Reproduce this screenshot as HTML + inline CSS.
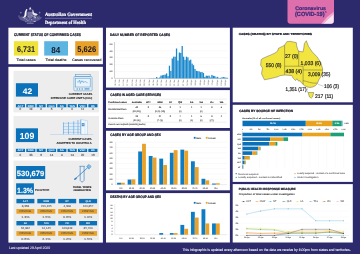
<!DOCTYPE html><html><head><meta charset="utf-8"><style>html,body{margin:0;padding:0;background:#2c2a6d;overflow:hidden;width:360px;height:254px}svg{display:block;will-change:transform;text-rendering:geometricPrecision}</style></head><body>
<svg width="360" height="254" viewBox="0 0 360 254">
<rect x="0" y="0" width="360" height="254" fill="#2c2a6d" />
<g fill="#ffffff">
<path d="M30.2 7.1 l0.35 0.75 0.8 0.1 -0.6 0.55 0.15 0.8 -0.7 -0.4 -0.7 0.4 0.15 -0.8 -0.6 -0.55 0.8 -0.1z"/>
<rect x="28.9" y="9.4" width="2.7" height="0.7" opacity="0.6"/>
<path d="M26.3 9.0 l0.9 0.3 0.2 0.9 -0.5 0.5 q-0.5 1.5 -0.3 3.2 q0.1 1.6 -0.9 2.5 l-1.6 1.0 -1.6 0.6 0.3 -0.5 1.2 -0.9 q0.6 -1.0 0.6 -2.8 q0.1 -2.2 1.1 -3.5z" opacity="0.95"/>
<path d="M32.5 9.4 q1.0 0.1 0.9 1.4 q-0.1 1.6 1.1 2.1 q2.2 0.2 3.3 1.6 q-0.9 1.2 -2.6 1.2 q-2.0 -0.2 -2.6 -1.6 q-0.4 -2.2 -0.1 -4.7z" opacity="0.9"/>
<path d="M27.4 11.8 h5.4 v4.4 q0 1.6 -2.7 2.4 q-2.7 -0.8 -2.7 -2.4z" opacity="0.35"/>
<path d="M18.2 17.6 q2.8 -1.6 6 -1.4 l2.2 1.2 q1.9 1.0 3.8 1.0 q1.9 0 3.8 -1.0 l2.2 -1.2 q3.2 -0.2 6 1.4 q-1.8 2.6 -5 3.4 q-3.4 1.2 -7 1.2 q-3.6 0 -7 -1.2 q-3.2 -0.8 -5 -3.4z" opacity="0.22"/>
<circle cx="24.09" cy="19.04" r="0.41" opacity="0.56"/>
<circle cx="33.20" cy="15.93" r="0.30" opacity="0.64"/>
<circle cx="24.59" cy="17.02" r="0.60" opacity="0.51"/>
<circle cx="38.16" cy="18.60" r="0.49" opacity="0.40"/>
<circle cx="33.42" cy="21.14" r="0.46" opacity="0.61"/>
<circle cx="34.28" cy="15.92" r="0.53" opacity="0.56"/>
<circle cx="25.58" cy="15.70" r="0.56" opacity="0.52"/>
<circle cx="35.39" cy="21.21" r="0.51" opacity="0.67"/>
<circle cx="27.78" cy="20.71" r="0.43" opacity="0.68"/>
<circle cx="39.15" cy="16.13" r="0.34" opacity="0.43"/>
<circle cx="33.23" cy="17.46" r="0.45" opacity="0.49"/>
<circle cx="26.75" cy="19.30" r="0.48" opacity="0.67"/>
<circle cx="34.53" cy="21.54" r="0.56" opacity="0.70"/>
<circle cx="34.27" cy="16.56" r="0.56" opacity="0.69"/>
<circle cx="35.27" cy="16.87" r="0.55" opacity="0.55"/>
<circle cx="25.20" cy="15.91" r="0.56" opacity="0.70"/>
<circle cx="28.15" cy="16.48" r="0.39" opacity="0.62"/>
<circle cx="39.01" cy="15.79" r="0.48" opacity="0.37"/>
<circle cx="35.38" cy="17.65" r="0.56" opacity="0.69"/>
<circle cx="30.38" cy="21.99" r="0.39" opacity="0.38"/>
<circle cx="32.59" cy="15.70" r="0.36" opacity="0.49"/>
<circle cx="32.85" cy="16.52" r="0.31" opacity="0.65"/>
<circle cx="25.88" cy="21.73" r="0.57" opacity="0.48"/>
<circle cx="29.32" cy="18.88" r="0.49" opacity="0.56"/>
<circle cx="31.64" cy="19.53" r="0.58" opacity="0.53"/>
<circle cx="28.63" cy="20.18" r="0.37" opacity="0.46"/>
<circle cx="31.39" cy="15.57" r="0.42" opacity="0.55"/>
<circle cx="33.36" cy="15.89" r="0.49" opacity="0.51"/>
<circle cx="34.46" cy="17.79" r="0.51" opacity="0.61"/>
<circle cx="19.02" cy="15.89" r="0.50" opacity="0.69"/>
<circle cx="24.40" cy="18.47" r="0.48" opacity="0.46"/>
<circle cx="27.05" cy="17.53" r="0.41" opacity="0.56"/>
<circle cx="25.56" cy="17.95" r="0.53" opacity="0.36"/>
<circle cx="31.88" cy="20.28" r="0.39" opacity="0.43"/>
<circle cx="37.39" cy="17.05" r="0.36" opacity="0.50"/>
<circle cx="20.8" cy="12.6" r="0.9" opacity="0.35"/><circle cx="39.6" cy="12.6" r="0.9" opacity="0.35"/>
<rect x="26.8" y="22.7" width="6.8" height="1.0" opacity="0.45"/>
</g>
<text transform="translate(45 15.9) scale(0.9242 1)" font-size="5.0" fill="#fff" font-weight="bold" text-anchor="start" style="font-family:&quot;Liberation Serif&quot;" stroke="#fff" stroke-width="0.2" >Australian Government</text>
<line x1="45" y1="18.3" x2="92" y2="18.3" stroke="#d8d8f0" stroke-width="0.4" />
<text transform="translate(45 23.8) scale(0.8891 1)" font-size="4.9" fill="#fff" font-weight="bold" text-anchor="start" style="font-family:&quot;Liberation Serif&quot;" stroke="#fff" stroke-width="0.196" >Department of Health</text>
<path d="M287.5 -2 H334 V20.7 Q334 23.7 331 23.7 H290.5 Q287.5 23.7 287.5 20.7Z" fill="#de6fad"/>
<path d="M321.2 23.7 Q326 17 333.7 11.8 V14 L323.3 23.7Z" fill="#f1a9d3"/>
<path d="M323.3 23.7 L333.7 14 V21 Q333.7 23.7 331 23.7Z" fill="#f4e6f2"/>
<text transform="translate(295.2 10.0) scale(1.0079 1)" font-size="5.2" fill="#3b2a78" font-weight="bold" text-anchor="start" style="font-family:&quot;Liberation Sans&quot;" stroke="#3b2a78" stroke-width="0.208" >Coronavirus</text>
<text transform="translate(295.0 15.9) scale(0.9336 1)" font-size="6.0" fill="#3b2a78" font-weight="bold" text-anchor="start" style="font-family:&quot;Liberation Sans&quot;" stroke="#3b2a78" stroke-width="0.24" >(COVID-19)</text>
<text x="325.2" y="13.0" font-size="2.4" fill="#3b2a78" font-weight="bold" text-anchor="start" style="font-family:&quot;Liberation Sans&quot;" stroke="#3b2a78" stroke-width="0.096" >1</text>
<rect x="8.4" y="27.7" width="94.5" height="36.5" fill="#fff" />
<text transform="translate(14 36.1) scale(0.8302 1)" font-size="3.9" fill="#1a1a2a" font-weight="bold" text-anchor="start" style="font-family:&quot;Liberation Sans&quot;" stroke="#1a1a2a" stroke-width="0.22" >CURRENT STATUS OF CONFIRMED CASES</text>
<rect x="13.9" y="41.2" width="24.3" height="14.4" fill="#efe23b" />
<rect x="44.2" y="41.2" width="23.8" height="14.4" fill="#5cb5e1" />
<rect x="75.2" y="41.2" width="23.4" height="14.4" fill="#e8a22a" />
<text transform="translate(26.0 52.0) scale(0.8686 1)" font-size="8.3" fill="#151520" font-weight="bold" text-anchor="middle" style="font-family:&quot;Liberation Sans&quot;" >6,731</text>
<text transform="translate(55.8 52.6) scale(0.9430 1)" font-size="8.6" fill="#151520" font-weight="bold" text-anchor="middle" style="font-family:&quot;Liberation Sans&quot;" >84</text>
<text transform="translate(86.65 52.0) scale(0.9120 1)" font-size="8.3" fill="#151520" font-weight="bold" text-anchor="middle" style="font-family:&quot;Liberation Sans&quot;" >5,626</text>
<text transform="translate(26.05 61.2) scale(1.1197 1)" font-size="3.4" fill="#333" font-weight="normal" text-anchor="middle" style="font-family:&quot;Liberation Sans&quot;" stroke="#333" stroke-width="0.136" >Total cases</text>
<text transform="translate(56.0 61.2) scale(1.1480 1)" font-size="3.4" fill="#333" font-weight="normal" text-anchor="middle" style="font-family:&quot;Liberation Sans&quot;" stroke="#333" stroke-width="0.136" >Total deaths</text>
<text transform="translate(86.7 61.2) scale(1.1466 1)" font-size="3.4" fill="#333" font-weight="normal" text-anchor="middle" style="font-family:&quot;Liberation Sans&quot;" stroke="#333" stroke-width="0.136" >Cases recovered</text>
<rect x="8.4" y="66.8" width="94.5" height="175.8" fill="#fff" />
<rect x="13.5" y="70.8" width="85.5" height="41.6" fill="#ededed" />
<rect x="13.5" y="116" width="85.5" height="41" fill="#ededed" />
<rect x="13.5" y="160.6" width="85.5" height="79.8" fill="#ededed" />
<rect x="15.9" y="83.2" width="22.1" height="13.4" fill="#0b72b9" />
<text transform="translate(27.5 94.1) scale(1.0346 1)" font-size="8.1" fill="#fff" font-weight="bold" text-anchor="middle" style="font-family:&quot;Liberation Sans&quot;" stroke="#fff" stroke-width="0.1" >42</text>
<g fill="none" stroke="#4d9bd5" stroke-width="0.55">
<rect x="75.7" y="74.4" width="14.5" height="2.1"/>
<rect x="73.9" y="76.5" width="18.2" height="14.3" rx="0.9"/>
<rect x="75.7" y="78.2" width="14.5" height="8.8" fill="#eaf3fb"/>
<path d="M77 82 h1.6 l0.8 -2 l0.9 3.5 l0.9 -2.8 l0.8 1.5 l0.8 -1.4 l0.8 1.9 l0.9 -1 h1.5 l0.6 0.9 h1"/>
</g>
<g fill="#4d9bd5"><circle cx="77.2" cy="88.9" r="0.75"/><circle cx="79.6" cy="88.9" r="0.75"/><circle cx="82.2" cy="88.9" r="0.75"/><rect x="84.5" y="88.3" width="5" height="1.2"/></g>
<text transform="translate(92.3 95.0) scale(0.9768 1)" font-size="2.8" fill="#222" font-weight="bold" text-anchor="end" style="font-family:&quot;Liberation Sans&quot;" stroke="#222" stroke-width="0.06" >CURRENT CASES</text>
<text transform="translate(92.3 98.6) scale(1.0364 1)" font-size="2.8" fill="#222" font-weight="bold" text-anchor="end" style="font-family:&quot;Liberation Sans&quot;" stroke="#222" stroke-width="0.06" >INTENSIVE CARE UNITS (ICU)</text>
<rect x="15.9" y="104.1" width="9.1" height="3.2" fill="#0b72b9" />
<text transform="translate(20.45 106.55) scale(1.1255 1)" font-size="2.6" fill="#fff" font-weight="bold" text-anchor="middle" style="font-family:&quot;Liberation Sans&quot;" stroke="#fff" stroke-width="0.02" >ACT</text>
<text x="20.45" y="110.3" font-size="3.0" fill="#555" font-weight="normal" text-anchor="middle" style="font-family:&quot;Liberation Sans&quot;" stroke="#555" stroke-width="0.1" >0</text>
<rect x="26.25" y="104.1" width="9.1" height="3.2" fill="#0b72b9" />
<text transform="translate(30.8 106.55) scale(0.9914 1)" font-size="2.6" fill="#fff" font-weight="bold" text-anchor="middle" style="font-family:&quot;Liberation Sans&quot;" stroke="#fff" stroke-width="0.02" >NSW</text>
<text x="30.8" y="110.3" font-size="3.0" fill="#555" font-weight="normal" text-anchor="middle" style="font-family:&quot;Liberation Sans&quot;" stroke="#555" stroke-width="0.1" >19</text>
<rect x="36.6" y="104.1" width="9.1" height="3.2" fill="#0b72b9" />
<text transform="translate(41.15 106.55) scale(1.1568 1)" font-size="2.6" fill="#fff" font-weight="bold" text-anchor="middle" style="font-family:&quot;Liberation Sans&quot;" stroke="#fff" stroke-width="0.02" >NT</text>
<text x="41.15" y="110.3" font-size="3.0" fill="#555" font-weight="normal" text-anchor="middle" style="font-family:&quot;Liberation Sans&quot;" stroke="#555" stroke-width="0.1" >0</text>
<rect x="46.949999999999996" y="104.1" width="9.1" height="3.2" fill="#0b72b9" />
<text transform="translate(51.49999999999999 106.55) scale(1.0958 1)" font-size="2.6" fill="#fff" font-weight="bold" text-anchor="middle" style="font-family:&quot;Liberation Sans&quot;" stroke="#fff" stroke-width="0.02" >QLD</text>
<text x="51.49999999999999" y="110.3" font-size="3.0" fill="#555" font-weight="normal" text-anchor="middle" style="font-family:&quot;Liberation Sans&quot;" stroke="#555" stroke-width="0.1" >6</text>
<rect x="57.3" y="104.1" width="9.1" height="3.2" fill="#0b72b9" />
<text transform="translate(61.849999999999994 106.55) scale(1.1100 1)" font-size="2.6" fill="#fff" font-weight="bold" text-anchor="middle" style="font-family:&quot;Liberation Sans&quot;" stroke="#fff" stroke-width="0.02" >SA</text>
<text x="61.849999999999994" y="110.3" font-size="3.0" fill="#555" font-weight="normal" text-anchor="middle" style="font-family:&quot;Liberation Sans&quot;" stroke="#555" stroke-width="0.1" >2</text>
<rect x="67.65" y="104.1" width="9.1" height="3.2" fill="#0b72b9" />
<text transform="translate(72.2 106.55) scale(1.2011 1)" font-size="2.6" fill="#fff" font-weight="bold" text-anchor="middle" style="font-family:&quot;Liberation Sans&quot;" stroke="#fff" stroke-width="0.02" >TAS</text>
<text x="72.2" y="110.3" font-size="3.0" fill="#555" font-weight="normal" text-anchor="middle" style="font-family:&quot;Liberation Sans&quot;" stroke="#555" stroke-width="0.1" >0</text>
<rect x="78.0" y="104.1" width="9.1" height="3.2" fill="#0b72b9" />
<text transform="translate(82.55 106.55) scale(1.3875 1)" font-size="2.6" fill="#fff" font-weight="bold" text-anchor="middle" style="font-family:&quot;Liberation Sans&quot;" stroke="#fff" stroke-width="0.02" >VIC</text>
<text x="82.55" y="110.3" font-size="3.0" fill="#555" font-weight="normal" text-anchor="middle" style="font-family:&quot;Liberation Sans&quot;" stroke="#555" stroke-width="0.1" >11</text>
<rect x="88.35000000000001" y="104.1" width="9.1" height="3.2" fill="#0b72b9" />
<text transform="translate(92.9 106.55) scale(0.9573 1)" font-size="2.6" fill="#fff" font-weight="bold" text-anchor="middle" style="font-family:&quot;Liberation Sans&quot;" stroke="#fff" stroke-width="0.02" >WA</text>
<text x="92.9" y="110.3" font-size="3.0" fill="#555" font-weight="normal" text-anchor="middle" style="font-family:&quot;Liberation Sans&quot;" stroke="#555" stroke-width="0.1" >4</text>
<rect x="15.9" y="128.3" width="22.1" height="13.8" fill="#0b72b9" />
<text transform="translate(27.0 138.5) scale(0.9898 1)" font-size="8.8" fill="#fff" font-weight="bold" text-anchor="middle" style="font-family:&quot;Liberation Sans&quot;" stroke="#fff" stroke-width="0.05" >109</text>
<path d="M62.9 134.4 V122.4 L74.2 121.2 V120.3 L80.8 119.5 V134.4Z" fill="#e3edf7"/>
<path d="M80.8 119.5 L84.5 120.2 L87.5 120.9 V134.4 H80.8Z" fill="#f3f8fc" stroke="#86b8e2" stroke-width="0.35"/>
<g stroke="#8fbfe6" stroke-width="0.55">
<line x1="62.9" y1="123.3" x2="80.8" y2="123.2"/>
<line x1="62.9" y1="126.6" x2="80.8" y2="126.5"/>
<line x1="62.9" y1="129.5" x2="80.8" y2="129.4"/>
<line x1="62.9" y1="132.4" x2="80.8" y2="132.3"/>
</g>
<g fill="#76acdb">
<rect x="63.0" y="122.4" width="0.75" height="12.00"/>
<rect x="68.0" y="121.9" width="0.75" height="12.50"/>
<rect x="73.4" y="121.3" width="0.75" height="13.10"/>
<rect x="77.6" y="120.0" width="0.75" height="14.40"/>
<rect x="80.4" y="119.6" width="0.75" height="14.80"/>
</g>
<path d="M85 120.4 V134.4" stroke="#b9d6ef" stroke-width="0.4"/>
<rect x="81.8" y="123.2" width="2.6" height="3.0" fill="#2d7cc4"/><path d="M83.1 123.7 v2 M82.2 124.7 h1.8" stroke="#fff" stroke-width="0.4"/>
<line x1="50.1" y1="134.5" x2="93.1" y2="134.5" stroke="#9cc6e8" stroke-width="0.45" />
<text transform="translate(91.5 140.0) scale(0.9560 1)" font-size="2.8" fill="#222" font-weight="bold" text-anchor="end" style="font-family:&quot;Liberation Sans&quot;" stroke="#222" stroke-width="0.06" >CURRENT CASES</text>
<text transform="translate(91.5 143.8) scale(0.9834 1)" font-size="2.8" fill="#222" font-weight="bold" text-anchor="end" style="font-family:&quot;Liberation Sans&quot;" stroke="#222" stroke-width="0.06" >ADMITTED TO HOSPITALS</text>
<rect x="15.9" y="148.8" width="9.1" height="3.2" fill="#0b72b9" />
<text transform="translate(20.45 151.25) scale(1.1255 1)" font-size="2.6" fill="#fff" font-weight="bold" text-anchor="middle" style="font-family:&quot;Liberation Sans&quot;" stroke="#fff" stroke-width="0.02" >ACT</text>
<text x="20.45" y="155.9" font-size="3.0" fill="#555" font-weight="normal" text-anchor="middle" style="font-family:&quot;Liberation Sans&quot;" stroke="#555" stroke-width="0.1" >0</text>
<rect x="26.25" y="148.8" width="9.1" height="3.2" fill="#0b72b9" />
<text transform="translate(30.8 151.25) scale(0.9914 1)" font-size="2.6" fill="#fff" font-weight="bold" text-anchor="middle" style="font-family:&quot;Liberation Sans&quot;" stroke="#fff" stroke-width="0.02" >NSW</text>
<text x="30.8" y="155.9" font-size="3.0" fill="#555" font-weight="normal" text-anchor="middle" style="font-family:&quot;Liberation Sans&quot;" stroke="#555" stroke-width="0.1" >33</text>
<rect x="36.6" y="148.8" width="9.1" height="3.2" fill="#0b72b9" />
<text transform="translate(41.15 151.25) scale(1.1568 1)" font-size="2.6" fill="#fff" font-weight="bold" text-anchor="middle" style="font-family:&quot;Liberation Sans&quot;" stroke="#fff" stroke-width="0.02" >NT</text>
<text x="41.15" y="155.9" font-size="3.0" fill="#555" font-weight="normal" text-anchor="middle" style="font-family:&quot;Liberation Sans&quot;" stroke="#555" stroke-width="0.1" >6</text>
<rect x="46.949999999999996" y="148.8" width="9.1" height="3.2" fill="#0b72b9" />
<text transform="translate(51.49999999999999 151.25) scale(1.0958 1)" font-size="2.6" fill="#fff" font-weight="bold" text-anchor="middle" style="font-family:&quot;Liberation Sans&quot;" stroke="#fff" stroke-width="0.02" >QLD</text>
<text x="51.49999999999999" y="155.9" font-size="3.0" fill="#555" font-weight="normal" text-anchor="middle" style="font-family:&quot;Liberation Sans&quot;" stroke="#555" stroke-width="0.1" >14</text>
<rect x="57.3" y="148.8" width="9.1" height="3.2" fill="#0b72b9" />
<text transform="translate(61.849999999999994 151.25) scale(1.1100 1)" font-size="2.6" fill="#fff" font-weight="bold" text-anchor="middle" style="font-family:&quot;Liberation Sans&quot;" stroke="#fff" stroke-width="0.02" >SA</text>
<text x="61.849999999999994" y="155.9" font-size="3.0" fill="#555" font-weight="normal" text-anchor="middle" style="font-family:&quot;Liberation Sans&quot;" stroke="#555" stroke-width="0.1" >4</text>
<rect x="67.65" y="148.8" width="9.1" height="3.2" fill="#0b72b9" />
<text transform="translate(72.2 151.25) scale(1.2011 1)" font-size="2.6" fill="#fff" font-weight="bold" text-anchor="middle" style="font-family:&quot;Liberation Sans&quot;" stroke="#fff" stroke-width="0.02" >TAS</text>
<text x="72.2" y="155.9" font-size="3.0" fill="#555" font-weight="normal" text-anchor="middle" style="font-family:&quot;Liberation Sans&quot;" stroke="#555" stroke-width="0.1" >14</text>
<rect x="78.0" y="148.8" width="9.1" height="3.2" fill="#0b72b9" />
<text transform="translate(82.55 151.25) scale(1.3875 1)" font-size="2.6" fill="#fff" font-weight="bold" text-anchor="middle" style="font-family:&quot;Liberation Sans&quot;" stroke="#fff" stroke-width="0.02" >VIC</text>
<text x="82.55" y="155.9" font-size="3.0" fill="#555" font-weight="normal" text-anchor="middle" style="font-family:&quot;Liberation Sans&quot;" stroke="#555" stroke-width="0.1" >20</text>
<rect x="88.35000000000001" y="148.8" width="9.1" height="3.2" fill="#0b72b9" />
<text transform="translate(92.9 151.25) scale(0.9573 1)" font-size="2.6" fill="#fff" font-weight="bold" text-anchor="middle" style="font-family:&quot;Liberation Sans&quot;" stroke="#fff" stroke-width="0.02" >WA</text>
<text x="92.9" y="155.9" font-size="3.0" fill="#555" font-weight="normal" text-anchor="middle" style="font-family:&quot;Liberation Sans&quot;" stroke="#555" stroke-width="0.1" >16</text>
<rect x="16.1" y="166" width="29.1" height="13" fill="#0b72b9" />
<text transform="translate(30.45 176.2) scale(1.0093 1)" font-size="7.5" fill="#fff" font-weight="bold" text-anchor="middle" style="font-family:&quot;Liberation Sans&quot;" stroke="#fff" stroke-width="0.1" >530,679</text>
<rect x="16.1" y="183.3" width="17.8" height="11.3" fill="#0b72b9" />
<text transform="translate(25.1 192.5) scale(0.9508 1)" font-size="7.4" fill="#fff" font-weight="bold" text-anchor="middle" style="font-family:&quot;Liberation Sans&quot;" stroke="#fff" stroke-width="0.1" >1.3%</text>
<text transform="translate(35 190.7) scale(1.1021 1)" font-size="2.8" fill="#222" font-weight="normal" text-anchor="start" style="font-family:&quot;Liberation Sans&quot;" stroke="#222" stroke-width="0.12" >POSITIVE</text>
<g fill="none" stroke="#2a7cc6" stroke-width="0.62">
<path d="M79.4 166.3 h5.4 M80.2 166.4 V180.4 Q82.15 183.6 84.1 180.4 V166.4"/>
</g>
<path d="M76.0 178.2 L87.4 167.9" stroke="#2a7cc6" stroke-width="0.75" stroke-linecap="round"/>
<ellipse cx="75.5" cy="178.7" rx="1.6" ry="0.85" transform="rotate(-42 75.5 178.7)" fill="#2a7cc6"/>
<path d="M86.6 166.6 L88.4 164.4 Q90.6 164.6 91.2 166.8 L88.8 169.2Z" fill="#6aaee0" stroke="#2a7cc6" stroke-width="0.3"/>
<path d="M87.6 165.5 L90.2 168 M88.6 164.8 L90.9 167.1" stroke="#ffffff" stroke-width="0.25"/>
<text transform="translate(82.15 187.7) scale(1.0914 1)" font-size="2.5" fill="#222" font-weight="bold" text-anchor="middle" style="font-family:&quot;Liberation Sans&quot;" stroke="#222" stroke-width="0.16" >TOTAL TESTS</text>
<text transform="translate(82.15 191.1) scale(1.0982 1)" font-size="2.5" fill="#222" font-weight="bold" text-anchor="middle" style="font-family:&quot;Liberation Sans&quot;" stroke="#222" stroke-width="0.16" >CONDUCTED</text>
<rect x="16.4" y="198.9" width="18" height="4.4" fill="#0b72b9" />
<text x="25.4" y="202.0" font-size="2.5" fill="#fff" font-weight="bold" text-anchor="middle" style="font-family:&quot;Liberation Sans&quot;" >ACT</text>
<text transform="translate(25.4 206.5) scale(1.0013 1)" font-size="3.0" fill="#555" font-weight="normal" text-anchor="middle" style="font-family:&quot;Liberation Sans&quot;" stroke="#555" stroke-width="0.05" >8,368</text>
<rect x="16.4" y="209.0" width="18" height="4.7" fill="#e8a22a" />
<text transform="translate(25.4 212.20000000000002) scale(1.0257 1)" font-size="2.5" fill="#444" font-weight="normal" text-anchor="middle" style="font-family:&quot;Liberation Sans&quot;" stroke="#444" stroke-width="0.05" >POSITIVE</text>
<text transform="translate(25.4 217.5) scale(1.2166 1)" font-size="3.0" fill="#555" font-weight="normal" text-anchor="middle" style="font-family:&quot;Liberation Sans&quot;" stroke="#555" stroke-width="0.05" >1.3%</text>
<rect x="37.3" y="198.9" width="18" height="4.4" fill="#0b72b9" />
<text x="46.3" y="202.0" font-size="2.5" fill="#fff" font-weight="bold" text-anchor="middle" style="font-family:&quot;Liberation Sans&quot;" >NSW</text>
<text transform="translate(46.3 206.5) scale(0.9705 1)" font-size="3.0" fill="#555" font-weight="normal" text-anchor="middle" style="font-family:&quot;Liberation Sans&quot;" stroke="#555" stroke-width="0.05" >201,245</text>
<rect x="37.3" y="209.0" width="18" height="4.7" fill="#e8a22a" />
<text transform="translate(46.3 212.20000000000002) scale(1.0257 1)" font-size="2.5" fill="#444" font-weight="normal" text-anchor="middle" style="font-family:&quot;Liberation Sans&quot;" stroke="#444" stroke-width="0.05" >POSITIVE</text>
<text transform="translate(46.3 217.5) scale(1.2166 1)" font-size="3.0" fill="#555" font-weight="normal" text-anchor="middle" style="font-family:&quot;Liberation Sans&quot;" stroke="#555" stroke-width="0.05" >1.5%</text>
<rect x="58.199999999999996" y="198.9" width="18" height="4.4" fill="#0b72b9" />
<text x="67.19999999999999" y="202.0" font-size="2.5" fill="#fff" font-weight="bold" text-anchor="middle" style="font-family:&quot;Liberation Sans&quot;" >NT</text>
<text transform="translate(67.19999999999999 206.5) scale(1.0013 1)" font-size="3.0" fill="#555" font-weight="normal" text-anchor="middle" style="font-family:&quot;Liberation Sans&quot;" stroke="#555" stroke-width="0.05" >4,308</text>
<rect x="58.199999999999996" y="209.0" width="18" height="4.7" fill="#e8a22a" />
<text transform="translate(67.19999999999999 212.20000000000002) scale(1.0257 1)" font-size="2.5" fill="#444" font-weight="normal" text-anchor="middle" style="font-family:&quot;Liberation Sans&quot;" stroke="#444" stroke-width="0.05" >POSITIVE</text>
<text transform="translate(67.19999999999999 217.5) scale(1.2166 1)" font-size="3.0" fill="#555" font-weight="normal" text-anchor="middle" style="font-family:&quot;Liberation Sans&quot;" stroke="#555" stroke-width="0.05" >0.6%</text>
<rect x="79.1" y="198.9" width="18" height="4.4" fill="#0b72b9" />
<text x="88.1" y="202.0" font-size="2.5" fill="#fff" font-weight="bold" text-anchor="middle" style="font-family:&quot;Liberation Sans&quot;" >QLD</text>
<text transform="translate(88.1 206.5) scale(0.9705 1)" font-size="3.0" fill="#555" font-weight="normal" text-anchor="middle" style="font-family:&quot;Liberation Sans&quot;" stroke="#555" stroke-width="0.05" >104,357</text>
<rect x="79.1" y="209.0" width="18" height="4.7" fill="#e8a22a" />
<text transform="translate(88.1 212.20000000000002) scale(1.0257 1)" font-size="2.5" fill="#444" font-weight="normal" text-anchor="middle" style="font-family:&quot;Liberation Sans&quot;" stroke="#444" stroke-width="0.05" >POSITIVE</text>
<text transform="translate(88.1 217.5) scale(1.2166 1)" font-size="3.0" fill="#555" font-weight="normal" text-anchor="middle" style="font-family:&quot;Liberation Sans&quot;" stroke="#555" stroke-width="0.05" >1.0%</text>
<rect x="16.4" y="221.0" width="18" height="4.4" fill="#0b72b9" />
<text x="25.4" y="224.1" font-size="2.5" fill="#fff" font-weight="bold" text-anchor="middle" style="font-family:&quot;Liberation Sans&quot;" >SA</text>
<text transform="translate(25.4 228.6) scale(0.9831 1)" font-size="3.0" fill="#555" font-weight="normal" text-anchor="middle" style="font-family:&quot;Liberation Sans&quot;" stroke="#555" stroke-width="0.05" >64,082</text>
<rect x="16.4" y="231.1" width="18" height="4.7" fill="#e8a22a" />
<text transform="translate(25.4 234.3) scale(1.0257 1)" font-size="2.5" fill="#444" font-weight="normal" text-anchor="middle" style="font-family:&quot;Liberation Sans&quot;" stroke="#444" stroke-width="0.05" >POSITIVE</text>
<text transform="translate(25.4 239.6) scale(1.2166 1)" font-size="3.0" fill="#555" font-weight="normal" text-anchor="middle" style="font-family:&quot;Liberation Sans&quot;" stroke="#555" stroke-width="0.05" >0.6%</text>
<rect x="37.3" y="221.0" width="18" height="4.4" fill="#0b72b9" />
<text x="46.3" y="224.1" font-size="2.5" fill="#fff" font-weight="bold" text-anchor="middle" style="font-family:&quot;Liberation Sans&quot;" >TAS</text>
<text transform="translate(46.3 228.6) scale(0.9831 1)" font-size="3.0" fill="#555" font-weight="normal" text-anchor="middle" style="font-family:&quot;Liberation Sans&quot;" stroke="#555" stroke-width="0.05" >10,145</text>
<rect x="37.3" y="231.1" width="18" height="4.7" fill="#e8a22a" />
<text transform="translate(46.3 234.3) scale(1.0257 1)" font-size="2.5" fill="#444" font-weight="normal" text-anchor="middle" style="font-family:&quot;Liberation Sans&quot;" stroke="#444" stroke-width="0.05" >POSITIVE</text>
<text transform="translate(46.3 239.6) scale(1.2166 1)" font-size="3.0" fill="#555" font-weight="normal" text-anchor="middle" style="font-family:&quot;Liberation Sans&quot;" stroke="#555" stroke-width="0.05" >2.1%</text>
<rect x="58.199999999999996" y="221.0" width="18" height="4.4" fill="#0b72b9" />
<text x="67.19999999999999" y="224.1" font-size="2.5" fill="#fff" font-weight="bold" text-anchor="middle" style="font-family:&quot;Liberation Sans&quot;" >VIC</text>
<text transform="translate(67.19999999999999 228.6) scale(0.9705 1)" font-size="3.0" fill="#555" font-weight="normal" text-anchor="middle" style="font-family:&quot;Liberation Sans&quot;" stroke="#555" stroke-width="0.05" >109,849</text>
<rect x="58.199999999999996" y="231.1" width="18" height="4.7" fill="#e8a22a" />
<text transform="translate(67.19999999999999 234.3) scale(1.0257 1)" font-size="2.5" fill="#444" font-weight="normal" text-anchor="middle" style="font-family:&quot;Liberation Sans&quot;" stroke="#444" stroke-width="0.05" >POSITIVE</text>
<text transform="translate(67.19999999999999 239.6) scale(1.2166 1)" font-size="3.0" fill="#555" font-weight="normal" text-anchor="middle" style="font-family:&quot;Liberation Sans&quot;" stroke="#555" stroke-width="0.05" >1.2%</text>
<rect x="79.1" y="221.0" width="18" height="4.4" fill="#0b72b9" />
<text x="88.1" y="224.1" font-size="2.5" fill="#fff" font-weight="bold" text-anchor="middle" style="font-family:&quot;Liberation Sans&quot;" >WA</text>
<text transform="translate(88.1 228.6) scale(0.9831 1)" font-size="3.0" fill="#555" font-weight="normal" text-anchor="middle" style="font-family:&quot;Liberation Sans&quot;" stroke="#555" stroke-width="0.05" >35,700</text>
<rect x="79.1" y="231.1" width="18" height="4.7" fill="#e8a22a" />
<text transform="translate(88.1 234.3) scale(1.0257 1)" font-size="2.5" fill="#444" font-weight="normal" text-anchor="middle" style="font-family:&quot;Liberation Sans&quot;" stroke="#444" stroke-width="0.05" >POSITIVE</text>
<text transform="translate(88.1 239.6) scale(1.2166 1)" font-size="3.0" fill="#555" font-weight="normal" text-anchor="middle" style="font-family:&quot;Liberation Sans&quot;" stroke="#555" stroke-width="0.05" >1.5%</text>
<text transform="translate(9.05 249.0) scale(0.9617 1)" font-size="3.6" fill="#fff" font-weight="normal" text-anchor="start" style="font-family:&quot;Liberation Sans&quot;" stroke="#fff" stroke-width="0.03" >Last updated 29 April 2020</text>
<rect x="106.0" y="27.7" width="123.9" height="59.9" fill="#fff" />
<text transform="translate(109.9 35.8) scale(0.9149 1)" font-size="3.5" fill="#1a1a2a" font-weight="bold" text-anchor="start" style="font-family:&quot;Liberation Sans&quot;" stroke="#1a1a2a" stroke-width="0.22" >DAILY NUMBER OF REPORTED CASES</text>
<text x="112.6" y="44.6" font-size="1.9" fill="#666" font-weight="normal" text-anchor="end" style="font-family:&quot;Liberation Sans&quot;" stroke="#666" stroke-width="0.076" >500</text>
<line x1="114.5" y1="43.9" x2="228" y2="43.9" stroke="#ebebeb" stroke-width="0.3" />
<text x="112.6" y="51.54" font-size="1.9" fill="#666" font-weight="normal" text-anchor="end" style="font-family:&quot;Liberation Sans&quot;" stroke="#666" stroke-width="0.076" >400</text>
<line x1="114.5" y1="50.839999999999996" x2="228" y2="50.839999999999996" stroke="#ebebeb" stroke-width="0.3" />
<text x="112.6" y="58.480000000000004" font-size="1.9" fill="#666" font-weight="normal" text-anchor="end" style="font-family:&quot;Liberation Sans&quot;" stroke="#666" stroke-width="0.076" >300</text>
<line x1="114.5" y1="57.78" x2="228" y2="57.78" stroke="#ebebeb" stroke-width="0.3" />
<text x="112.6" y="65.42" font-size="1.9" fill="#666" font-weight="normal" text-anchor="end" style="font-family:&quot;Liberation Sans&quot;" stroke="#666" stroke-width="0.076" >200</text>
<line x1="114.5" y1="64.72" x2="228" y2="64.72" stroke="#ebebeb" stroke-width="0.3" />
<text x="112.6" y="72.36" font-size="1.9" fill="#666" font-weight="normal" text-anchor="end" style="font-family:&quot;Liberation Sans&quot;" stroke="#666" stroke-width="0.076" >100</text>
<line x1="114.5" y1="71.66" x2="228" y2="71.66" stroke="#ebebeb" stroke-width="0.3" />
<text x="112.6" y="79.3" font-size="1.9" fill="#666" font-weight="normal" text-anchor="end" style="font-family:&quot;Liberation Sans&quot;" stroke="#666" stroke-width="0.076" >0</text>
<line x1="114.5" y1="42" x2="114.5" y2="78.4" stroke="#888" stroke-width="0.4" />
<line x1="114.5" y1="78.4" x2="228" y2="78.4" stroke="#999" stroke-width="0.4" />
<g fill="#1a88cc">
<rect x="148.99" y="78.26" width="1.27" height="0.14"/>
<rect x="150.41" y="78.19" width="1.27" height="0.21"/>
<rect x="151.82" y="78.26" width="1.27" height="0.14"/>
<rect x="153.24" y="78.12" width="1.27" height="0.28"/>
<rect x="154.66" y="78.19" width="1.27" height="0.21"/>
<rect x="156.07" y="77.01" width="1.27" height="1.39"/>
<rect x="157.49" y="78.05" width="1.27" height="0.35"/>
<rect x="158.90" y="77.57" width="1.27" height="0.83"/>
<rect x="160.32" y="75.62" width="1.27" height="2.78"/>
<rect x="161.74" y="75.28" width="1.27" height="3.12"/>
<rect x="163.15" y="74.93" width="1.27" height="3.47"/>
<rect x="164.57" y="74.58" width="1.27" height="3.82"/>
<rect x="165.99" y="73.40" width="1.27" height="5.00"/>
<rect x="167.40" y="76.11" width="1.27" height="2.29"/>
<rect x="168.82" y="65.70" width="1.27" height="12.70"/>
<rect x="170.23" y="70.90" width="1.27" height="7.50"/>
<rect x="171.65" y="58.48" width="1.27" height="19.92"/>
<rect x="173.07" y="56.68" width="1.27" height="21.72"/>
<rect x="174.48" y="56.68" width="1.27" height="21.72"/>
<rect x="175.90" y="48.49" width="1.27" height="29.91"/>
<rect x="177.31" y="60.49" width="1.27" height="17.91"/>
<rect x="178.73" y="52.51" width="1.27" height="25.89"/>
<rect x="180.15" y="52.86" width="1.27" height="25.54"/>
<rect x="181.56" y="45.99" width="1.27" height="32.41"/>
<rect x="182.98" y="56.68" width="1.27" height="21.72"/>
<rect x="184.40" y="59.80" width="1.27" height="18.60"/>
<rect x="185.81" y="56.68" width="1.27" height="21.72"/>
<rect x="187.23" y="57.37" width="1.27" height="21.03"/>
<rect x="188.65" y="60.49" width="1.27" height="17.91"/>
<rect x="190.06" y="59.66" width="1.27" height="18.74"/>
<rect x="191.48" y="63.62" width="1.27" height="14.78"/>
<rect x="192.89" y="65.21" width="1.27" height="13.19"/>
<rect x="194.31" y="68.89" width="1.27" height="9.51"/>
<rect x="195.73" y="70.84" width="1.27" height="7.56"/>
<rect x="197.14" y="71.11" width="1.27" height="7.29"/>
<rect x="198.56" y="71.39" width="1.27" height="7.01"/>
<rect x="199.98" y="72.22" width="1.27" height="6.18"/>
<rect x="201.39" y="71.95" width="1.27" height="6.45"/>
<rect x="202.81" y="72.99" width="1.27" height="5.41"/>
<rect x="204.22" y="76.87" width="1.27" height="1.53"/>
<rect x="205.64" y="75.62" width="1.27" height="2.78"/>
<rect x="207.06" y="75.83" width="1.27" height="2.57"/>
<rect x="208.47" y="75.62" width="1.27" height="2.78"/>
<rect x="209.89" y="77.50" width="1.27" height="0.90"/>
<rect x="211.31" y="74.93" width="1.27" height="3.47"/>
<rect x="212.72" y="75.83" width="1.27" height="2.57"/>
<rect x="214.14" y="76.11" width="1.27" height="2.29"/>
<rect x="215.55" y="77.50" width="1.27" height="0.90"/>
<rect x="216.97" y="76.87" width="1.27" height="1.53"/>
<rect x="218.39" y="78.05" width="1.27" height="0.35"/>
<rect x="219.80" y="77.84" width="1.27" height="0.56"/>
<rect x="221.22" y="77.50" width="1.27" height="0.90"/>
<rect x="222.64" y="77.01" width="1.27" height="1.39"/>
<rect x="224.05" y="77.36" width="1.27" height="1.04"/>
<rect x="225.47" y="77.71" width="1.27" height="0.69"/>
<rect x="226.88" y="77.84" width="1.27" height="0.56"/>
</g>
<text transform="translate(115.50 79.6) rotate(-90)" font-size="2.0" fill="#808080" text-anchor="end" stroke="#808080" stroke-width="0.05" style="font-family:&quot;Liberation Sans&quot;">08 Feb</text>
<text transform="translate(119.76 79.6) rotate(-90)" font-size="2.0" fill="#808080" text-anchor="end" stroke="#808080" stroke-width="0.05" style="font-family:&quot;Liberation Sans&quot;">11 Feb</text>
<text transform="translate(124.02 79.6) rotate(-90)" font-size="2.0" fill="#808080" text-anchor="end" stroke="#808080" stroke-width="0.05" style="font-family:&quot;Liberation Sans&quot;">14 Feb</text>
<text transform="translate(128.28 79.6) rotate(-90)" font-size="2.0" fill="#808080" text-anchor="end" stroke="#808080" stroke-width="0.05" style="font-family:&quot;Liberation Sans&quot;">17 Feb</text>
<text transform="translate(132.54 79.6) rotate(-90)" font-size="2.0" fill="#808080" text-anchor="end" stroke="#808080" stroke-width="0.05" style="font-family:&quot;Liberation Sans&quot;">20 Feb</text>
<text transform="translate(136.80 79.6) rotate(-90)" font-size="2.0" fill="#808080" text-anchor="end" stroke="#808080" stroke-width="0.05" style="font-family:&quot;Liberation Sans&quot;">23 Feb</text>
<text transform="translate(141.06 79.6) rotate(-90)" font-size="2.0" fill="#808080" text-anchor="end" stroke="#808080" stroke-width="0.05" style="font-family:&quot;Liberation Sans&quot;">26 Feb</text>
<text transform="translate(145.32 79.6) rotate(-90)" font-size="2.0" fill="#808080" text-anchor="end" stroke="#808080" stroke-width="0.05" style="font-family:&quot;Liberation Sans&quot;">29 Feb</text>
<text transform="translate(149.58 79.6) rotate(-90)" font-size="2.0" fill="#808080" text-anchor="end" stroke="#808080" stroke-width="0.05" style="font-family:&quot;Liberation Sans&quot;">03 Mar</text>
<text transform="translate(153.84 79.6) rotate(-90)" font-size="2.0" fill="#808080" text-anchor="end" stroke="#808080" stroke-width="0.05" style="font-family:&quot;Liberation Sans&quot;">06 Mar</text>
<text transform="translate(158.10 79.6) rotate(-90)" font-size="2.0" fill="#808080" text-anchor="end" stroke="#808080" stroke-width="0.05" style="font-family:&quot;Liberation Sans&quot;">09 Mar</text>
<text transform="translate(162.36 79.6) rotate(-90)" font-size="2.0" fill="#808080" text-anchor="end" stroke="#808080" stroke-width="0.05" style="font-family:&quot;Liberation Sans&quot;">12 Mar</text>
<text transform="translate(166.62 79.6) rotate(-90)" font-size="2.0" fill="#808080" text-anchor="end" stroke="#808080" stroke-width="0.05" style="font-family:&quot;Liberation Sans&quot;">15 Mar</text>
<text transform="translate(170.88 79.6) rotate(-90)" font-size="2.0" fill="#808080" text-anchor="end" stroke="#808080" stroke-width="0.05" style="font-family:&quot;Liberation Sans&quot;">18 Mar</text>
<text transform="translate(175.14 79.6) rotate(-90)" font-size="2.0" fill="#808080" text-anchor="end" stroke="#808080" stroke-width="0.05" style="font-family:&quot;Liberation Sans&quot;">21 Mar</text>
<text transform="translate(179.40 79.6) rotate(-90)" font-size="2.0" fill="#808080" text-anchor="end" stroke="#808080" stroke-width="0.05" style="font-family:&quot;Liberation Sans&quot;">24 Mar</text>
<text transform="translate(183.66 79.6) rotate(-90)" font-size="2.0" fill="#808080" text-anchor="end" stroke="#808080" stroke-width="0.05" style="font-family:&quot;Liberation Sans&quot;">27 Mar</text>
<text transform="translate(187.92 79.6) rotate(-90)" font-size="2.0" fill="#808080" text-anchor="end" stroke="#808080" stroke-width="0.05" style="font-family:&quot;Liberation Sans&quot;">30 Mar</text>
<text transform="translate(192.18 79.6) rotate(-90)" font-size="2.0" fill="#808080" text-anchor="end" stroke="#808080" stroke-width="0.05" style="font-family:&quot;Liberation Sans&quot;">02 Apr</text>
<text transform="translate(196.44 79.6) rotate(-90)" font-size="2.0" fill="#808080" text-anchor="end" stroke="#808080" stroke-width="0.05" style="font-family:&quot;Liberation Sans&quot;">05 Apr</text>
<text transform="translate(200.70 79.6) rotate(-90)" font-size="2.0" fill="#808080" text-anchor="end" stroke="#808080" stroke-width="0.05" style="font-family:&quot;Liberation Sans&quot;">08 Apr</text>
<text transform="translate(204.96 79.6) rotate(-90)" font-size="2.0" fill="#808080" text-anchor="end" stroke="#808080" stroke-width="0.05" style="font-family:&quot;Liberation Sans&quot;">11 Apr</text>
<text transform="translate(209.22 79.6) rotate(-90)" font-size="2.0" fill="#808080" text-anchor="end" stroke="#808080" stroke-width="0.05" style="font-family:&quot;Liberation Sans&quot;">14 Apr</text>
<text transform="translate(213.48 79.6) rotate(-90)" font-size="2.0" fill="#808080" text-anchor="end" stroke="#808080" stroke-width="0.05" style="font-family:&quot;Liberation Sans&quot;">17 Apr</text>
<text transform="translate(217.74 79.6) rotate(-90)" font-size="2.0" fill="#808080" text-anchor="end" stroke="#808080" stroke-width="0.05" style="font-family:&quot;Liberation Sans&quot;">20 Apr</text>
<text transform="translate(222.00 79.6) rotate(-90)" font-size="2.0" fill="#808080" text-anchor="end" stroke="#808080" stroke-width="0.05" style="font-family:&quot;Liberation Sans&quot;">23 Apr</text>
<text transform="translate(226.26 79.6) rotate(-90)" font-size="2.0" fill="#808080" text-anchor="end" stroke="#808080" stroke-width="0.05" style="font-family:&quot;Liberation Sans&quot;">26 Apr</text>
<rect x="106.0" y="90.1" width="123.9" height="37.9" fill="#fff" />
<text transform="translate(110.2 95.6) scale(0.8935 1)" font-size="3.5" fill="#1a1a2a" font-weight="bold" text-anchor="start" style="font-family:&quot;Liberation Sans&quot;" stroke="#1a1a2a" stroke-width="0.22" >CASES IN AGED CARE SERVICES</text>
<line x1="107.9" y1="99.1" x2="226.9" y2="99.1" stroke="#c4c4c4" stroke-width="0.3" />
<line x1="107.9" y1="104.2" x2="226.9" y2="104.2" stroke="#999" stroke-width="0.35" />
<line x1="107.9" y1="113.3" x2="226.9" y2="113.3" stroke="#c4c4c4" stroke-width="0.3" />
<line x1="107.9" y1="122.2" x2="226.9" y2="122.2" stroke="#c4c4c4" stroke-width="0.3" />
<text transform="translate(108.3 102.9) scale(0.9950 1)" font-size="2.3" fill="#222" font-weight="bold" text-anchor="start" style="font-family:&quot;Liberation Sans&quot;" stroke="#222" stroke-width="0.092" >Confirmed cases</text>
<text transform="translate(136.8 102.9) scale(1.0184 1)" font-size="2.3" fill="#222" font-weight="bold" text-anchor="middle" style="font-family:&quot;Liberation Sans&quot;" stroke="#222" stroke-width="0.092" >Australia</text>
<text x="148.3" y="102.9" font-size="2.3" fill="#222" font-weight="bold" text-anchor="middle" style="font-family:&quot;Liberation Sans&quot;" stroke="#222" stroke-width="0.092" >ACT</text>
<text x="160.1" y="102.9" font-size="2.3" fill="#222" font-weight="bold" text-anchor="middle" style="font-family:&quot;Liberation Sans&quot;" stroke="#222" stroke-width="0.092" >NSW</text>
<text x="170.5" y="102.9" font-size="2.3" fill="#222" font-weight="bold" text-anchor="middle" style="font-family:&quot;Liberation Sans&quot;" stroke="#222" stroke-width="0.092" >NT</text>
<text x="180.2" y="102.9" font-size="2.3" fill="#222" font-weight="bold" text-anchor="middle" style="font-family:&quot;Liberation Sans&quot;" stroke="#222" stroke-width="0.092" >Qld</text>
<text x="191.7" y="102.9" font-size="2.3" fill="#222" font-weight="bold" text-anchor="middle" style="font-family:&quot;Liberation Sans&quot;" stroke="#222" stroke-width="0.092" >SA</text>
<text x="201.1" y="102.9" font-size="2.3" fill="#222" font-weight="bold" text-anchor="middle" style="font-family:&quot;Liberation Sans&quot;" stroke="#222" stroke-width="0.092" >Tas</text>
<text x="211.8" y="102.9" font-size="2.3" fill="#222" font-weight="bold" text-anchor="middle" style="font-family:&quot;Liberation Sans&quot;" stroke="#222" stroke-width="0.092" >Vic</text>
<text x="221.5" y="102.9" font-size="2.3" fill="#222" font-weight="bold" text-anchor="middle" style="font-family:&quot;Liberation Sans&quot;" stroke="#222" stroke-width="0.092" >WA</text>
<text transform="translate(108.3 109.9) scale(1.0847 1)" font-size="2.3" fill="#444" font-weight="normal" text-anchor="start" style="font-family:&quot;Liberation Sans&quot;" stroke="#444" stroke-width="0.092" >Residential Care</text>
<text transform="translate(108.3 118.9) scale(1.0617 1)" font-size="2.3" fill="#444" font-weight="normal" text-anchor="start" style="font-family:&quot;Liberation Sans&quot;" stroke="#444" stroke-width="0.092" >In-Home Care</text>
<text x="136.8" y="108.0" font-size="2.3" fill="#444" font-weight="normal" text-anchor="middle" style="font-family:&quot;Liberation Sans&quot;" stroke="#444" stroke-width="0.092" >40</text>
<text x="136.8" y="111.7" font-size="2.2" fill="#555" font-weight="normal" text-anchor="middle" style="font-family:&quot;Liberation Sans&quot;" stroke="#555" stroke-width="0.088" >[52 (15)]</text>
<text x="148.3" y="108.0" font-size="2.3" fill="#444" font-weight="normal" text-anchor="middle" style="font-family:&quot;Liberation Sans&quot;" stroke="#444" stroke-width="0.092" >0</text>
<text x="160.1" y="108.0" font-size="2.3" fill="#444" font-weight="normal" text-anchor="middle" style="font-family:&quot;Liberation Sans&quot;" stroke="#444" stroke-width="0.092" >34</text>
<text x="160.1" y="111.7" font-size="2.2" fill="#555" font-weight="normal" text-anchor="middle" style="font-family:&quot;Liberation Sans&quot;" stroke="#555" stroke-width="0.088" >[5 (2) (15)]</text>
<text x="170.5" y="108.0" font-size="2.3" fill="#444" font-weight="normal" text-anchor="middle" style="font-family:&quot;Liberation Sans&quot;" stroke="#444" stroke-width="0.092" >0</text>
<text x="180.2" y="108.0" font-size="2.3" fill="#444" font-weight="normal" text-anchor="middle" style="font-family:&quot;Liberation Sans&quot;" stroke="#444" stroke-width="0.092" >1</text>
<text x="180.2" y="111.7" font-size="2.2" fill="#555" font-weight="normal" text-anchor="middle" style="font-family:&quot;Liberation Sans&quot;" stroke="#555" stroke-width="0.088" >[0]</text>
<text x="191.7" y="108.0" font-size="2.3" fill="#444" font-weight="normal" text-anchor="middle" style="font-family:&quot;Liberation Sans&quot;" stroke="#444" stroke-width="0.092" >1</text>
<text x="201.1" y="108.0" font-size="2.3" fill="#444" font-weight="normal" text-anchor="middle" style="font-family:&quot;Liberation Sans&quot;" stroke="#444" stroke-width="0.092" >1</text>
<text x="201.1" y="111.7" font-size="2.2" fill="#555" font-weight="normal" text-anchor="middle" style="font-family:&quot;Liberation Sans&quot;" stroke="#555" stroke-width="0.088" >[0]</text>
<text x="211.8" y="108.0" font-size="2.3" fill="#444" font-weight="normal" text-anchor="middle" style="font-family:&quot;Liberation Sans&quot;" stroke="#444" stroke-width="0.092" >8</text>
<text x="221.5" y="108.0" font-size="2.3" fill="#444" font-weight="normal" text-anchor="middle" style="font-family:&quot;Liberation Sans&quot;" stroke="#444" stroke-width="0.092" >4</text>
<text x="136.8" y="116.8" font-size="2.3" fill="#444" font-weight="normal" text-anchor="middle" style="font-family:&quot;Liberation Sans&quot;" stroke="#444" stroke-width="0.092" >28</text>
<text x="136.8" y="120.5" font-size="2.2" fill="#555" font-weight="normal" text-anchor="middle" style="font-family:&quot;Liberation Sans&quot;" stroke="#555" stroke-width="0.088" >[50 (8)]</text>
<text x="148.3" y="116.8" font-size="2.3" fill="#444" font-weight="normal" text-anchor="middle" style="font-family:&quot;Liberation Sans&quot;" stroke="#444" stroke-width="0.092" >0</text>
<text x="160.1" y="116.8" font-size="2.3" fill="#444" font-weight="normal" text-anchor="middle" style="font-family:&quot;Liberation Sans&quot;" stroke="#444" stroke-width="0.092" >27</text>
<text x="160.1" y="120.5" font-size="2.2" fill="#555" font-weight="normal" text-anchor="middle" style="font-family:&quot;Liberation Sans&quot;" stroke="#555" stroke-width="0.088" >[7 (1)]</text>
<text x="170.5" y="116.8" font-size="2.3" fill="#444" font-weight="normal" text-anchor="middle" style="font-family:&quot;Liberation Sans&quot;" stroke="#444" stroke-width="0.092" >0</text>
<text x="180.2" y="116.8" font-size="2.3" fill="#444" font-weight="normal" text-anchor="middle" style="font-family:&quot;Liberation Sans&quot;" stroke="#444" stroke-width="0.092" >7</text>
<text x="180.2" y="120.5" font-size="2.2" fill="#555" font-weight="normal" text-anchor="middle" style="font-family:&quot;Liberation Sans&quot;" stroke="#555" stroke-width="0.088" >[0]</text>
<text x="191.7" y="116.8" font-size="2.3" fill="#444" font-weight="normal" text-anchor="middle" style="font-family:&quot;Liberation Sans&quot;" stroke="#444" stroke-width="0.092" >1</text>
<text x="191.7" y="120.5" font-size="2.2" fill="#555" font-weight="normal" text-anchor="middle" style="font-family:&quot;Liberation Sans&quot;" stroke="#555" stroke-width="0.088" >[0]</text>
<text x="201.1" y="116.8" font-size="2.3" fill="#444" font-weight="normal" text-anchor="middle" style="font-family:&quot;Liberation Sans&quot;" stroke="#444" stroke-width="0.092" >5</text>
<text x="201.1" y="120.5" font-size="2.2" fill="#555" font-weight="normal" text-anchor="middle" style="font-family:&quot;Liberation Sans&quot;" stroke="#555" stroke-width="0.088" >[0]</text>
<text x="211.8" y="116.8" font-size="2.3" fill="#444" font-weight="normal" text-anchor="middle" style="font-family:&quot;Liberation Sans&quot;" stroke="#444" stroke-width="0.092" >9</text>
<text x="211.8" y="120.5" font-size="2.2" fill="#555" font-weight="normal" text-anchor="middle" style="font-family:&quot;Liberation Sans&quot;" stroke="#555" stroke-width="0.088" >[(7)]</text>
<text x="221.5" y="116.8" font-size="2.3" fill="#444" font-weight="normal" text-anchor="middle" style="font-family:&quot;Liberation Sans&quot;" stroke="#444" stroke-width="0.092" >1</text>
<text transform="translate(108.3 125.1) scale(0.8641 1)" font-size="2.2" fill="#444" font-weight="normal" text-anchor="start" style="font-family:&quot;Liberation Sans&quot;" stroke="#444" stroke-width="0.088" >Cases in care recipients (residents) [deaths]</text>
<rect x="106.0" y="130.8" width="123.9" height="59.5" fill="#fff" />
<text transform="translate(110.2 135.5) scale(0.8974 1)" font-size="3.5" fill="#1a1a2a" font-weight="bold" text-anchor="start" style="font-family:&quot;Liberation Sans&quot;" stroke="#1a1a2a" stroke-width="0.22" >CASES BY AGE GROUP AND SEX</text>
<rect x="193.8" y="136.9" width="1.8" height="1.8" fill="#0b72b9" />
<text x="196.2" y="138.6" font-size="2.3" fill="#444" font-weight="normal" text-anchor="start" style="font-family:&quot;Liberation Sans&quot;" stroke="#444" stroke-width="0.092" >Male</text>
<rect x="205.8" y="136.9" width="1.8" height="1.8" fill="#e8a22a" />
<text x="208.2" y="138.6" font-size="2.3" fill="#444" font-weight="normal" text-anchor="start" style="font-family:&quot;Liberation Sans&quot;" stroke="#444" stroke-width="0.092" >Female</text>
<text x="112.6" y="185.29999999999998" font-size="1.9" fill="#666" font-weight="normal" text-anchor="end" style="font-family:&quot;Liberation Sans&quot;" stroke="#666" stroke-width="0.076" >0</text>
<text x="112.6" y="179.99999999999997" font-size="1.9" fill="#666" font-weight="normal" text-anchor="end" style="font-family:&quot;Liberation Sans&quot;" stroke="#666" stroke-width="0.076" >100</text>
<line x1="115.7" y1="179.29999999999998" x2="227" y2="179.29999999999998" stroke="#ececec" stroke-width="0.3" />
<text x="112.6" y="174.7" font-size="1.9" fill="#666" font-weight="normal" text-anchor="end" style="font-family:&quot;Liberation Sans&quot;" stroke="#666" stroke-width="0.076" >200</text>
<line x1="115.7" y1="174.0" x2="227" y2="174.0" stroke="#ececec" stroke-width="0.3" />
<text x="112.6" y="169.39999999999998" font-size="1.9" fill="#666" font-weight="normal" text-anchor="end" style="font-family:&quot;Liberation Sans&quot;" stroke="#666" stroke-width="0.076" >300</text>
<line x1="115.7" y1="168.7" x2="227" y2="168.7" stroke="#ececec" stroke-width="0.3" />
<text x="112.6" y="164.1" font-size="1.9" fill="#666" font-weight="normal" text-anchor="end" style="font-family:&quot;Liberation Sans&quot;" stroke="#666" stroke-width="0.076" >400</text>
<line x1="115.7" y1="163.4" x2="227" y2="163.4" stroke="#ececec" stroke-width="0.3" />
<text x="112.6" y="158.79999999999998" font-size="1.9" fill="#666" font-weight="normal" text-anchor="end" style="font-family:&quot;Liberation Sans&quot;" stroke="#666" stroke-width="0.076" >500</text>
<line x1="115.7" y1="158.1" x2="227" y2="158.1" stroke="#ececec" stroke-width="0.3" />
<text x="112.6" y="153.49999999999997" font-size="1.9" fill="#666" font-weight="normal" text-anchor="end" style="font-family:&quot;Liberation Sans&quot;" stroke="#666" stroke-width="0.076" >600</text>
<line x1="115.7" y1="152.79999999999998" x2="227" y2="152.79999999999998" stroke="#ececec" stroke-width="0.3" />
<text x="112.6" y="148.2" font-size="1.9" fill="#666" font-weight="normal" text-anchor="end" style="font-family:&quot;Liberation Sans&quot;" stroke="#666" stroke-width="0.076" >700</text>
<line x1="115.7" y1="147.5" x2="227" y2="147.5" stroke="#ececec" stroke-width="0.3" />
<text x="112.6" y="142.89999999999998" font-size="1.9" fill="#666" font-weight="normal" text-anchor="end" style="font-family:&quot;Liberation Sans&quot;" stroke="#666" stroke-width="0.076" >800</text>
<line x1="115.7" y1="142.2" x2="227" y2="142.2" stroke="#ececec" stroke-width="0.3" />
<line x1="115.7" y1="142" x2="115.7" y2="184.6" stroke="#aaa" stroke-width="0.3" />
<line x1="114.8" y1="184.6" x2="227" y2="184.6" stroke="#bbb" stroke-width="0.3" />
<rect x="117.1" y="182.75" width="3.85" height="1.85" fill="#0e7cc3" />
<rect x="120.95" y="182.75" width="3.85" height="1.85" fill="#e8a22a" />
<text x="120.95" y="188.8" font-size="2.0" fill="#666" font-weight="normal" text-anchor="middle" style="font-family:&quot;Liberation Sans&quot;" stroke="#666" stroke-width="0.08" >0-9</text>
<rect x="127.65" y="179.56" width="3.85" height="5.04" fill="#0e7cc3" />
<rect x="131.5" y="179.3" width="3.85" height="5.3" fill="#e8a22a" />
<text x="131.5" y="188.8" font-size="2.0" fill="#666" font-weight="normal" text-anchor="middle" style="font-family:&quot;Liberation Sans&quot;" stroke="#666" stroke-width="0.08" >10-19</text>
<rect x="138.2" y="151.47" width="3.85" height="33.12" fill="#0e7cc3" />
<rect x="142.05" y="143.79" width="3.85" height="40.81" fill="#e8a22a" />
<text x="142.05" y="188.8" font-size="2.0" fill="#666" font-weight="normal" text-anchor="middle" style="font-family:&quot;Liberation Sans&quot;" stroke="#666" stroke-width="0.08" >20-29</text>
<rect x="148.75" y="155.98" width="3.85" height="28.62" fill="#0e7cc3" />
<rect x="152.6" y="157.57" width="3.85" height="27.03" fill="#e8a22a" />
<text x="152.6" y="188.8" font-size="2.0" fill="#666" font-weight="normal" text-anchor="middle" style="font-family:&quot;Liberation Sans&quot;" stroke="#666" stroke-width="0.08" >30-39</text>
<rect x="159.3" y="158.63" width="3.85" height="25.97" fill="#0e7cc3" />
<rect x="163.15" y="164.99" width="3.85" height="19.61" fill="#e8a22a" />
<text x="163.15" y="188.8" font-size="2.0" fill="#666" font-weight="normal" text-anchor="middle" style="font-family:&quot;Liberation Sans&quot;" stroke="#666" stroke-width="0.08" >40-49</text>
<rect x="169.85" y="152.8" width="3.85" height="31.8" fill="#0e7cc3" />
<rect x="173.7" y="150.15" width="3.85" height="34.45" fill="#e8a22a" />
<text x="173.7" y="188.8" font-size="2.0" fill="#666" font-weight="normal" text-anchor="middle" style="font-family:&quot;Liberation Sans&quot;" stroke="#666" stroke-width="0.08" >50-59</text>
<rect x="180.4" y="149.62" width="3.85" height="34.98" fill="#0e7cc3" />
<rect x="184.25" y="150.68" width="3.85" height="33.92" fill="#e8a22a" />
<text x="184.25" y="188.8" font-size="2.0" fill="#666" font-weight="normal" text-anchor="middle" style="font-family:&quot;Liberation Sans&quot;" stroke="#666" stroke-width="0.08" >60-69</text>
<rect x="190.95" y="161.28" width="3.85" height="23.32" fill="#0e7cc3" />
<rect x="194.8" y="167.11" width="3.85" height="17.49" fill="#e8a22a" />
<text x="194.8" y="188.8" font-size="2.0" fill="#666" font-weight="normal" text-anchor="middle" style="font-family:&quot;Liberation Sans&quot;" stroke="#666" stroke-width="0.08" >70-79</text>
<rect x="201.5" y="178.77" width="3.85" height="5.83" fill="#0e7cc3" />
<rect x="205.35" y="180.36" width="3.85" height="4.24" fill="#e8a22a" />
<text x="205.35" y="188.8" font-size="2.0" fill="#666" font-weight="normal" text-anchor="middle" style="font-family:&quot;Liberation Sans&quot;" stroke="#666" stroke-width="0.08" >80-89</text>
<rect x="212.05" y="183.54" width="3.85" height="1.06" fill="#0e7cc3" />
<rect x="215.9" y="183.28" width="3.85" height="1.32" fill="#e8a22a" />
<text x="215.9" y="188.8" font-size="2.0" fill="#666" font-weight="normal" text-anchor="middle" style="font-family:&quot;Liberation Sans&quot;" stroke="#666" stroke-width="0.08" >90+</text>
<rect x="106.0" y="193.1" width="123.9" height="49.4" fill="#fff" />
<text transform="translate(110.2 197.8) scale(0.8708 1)" font-size="3.5" fill="#1a1a2a" font-weight="bold" text-anchor="start" style="font-family:&quot;Liberation Sans&quot;" stroke="#1a1a2a" stroke-width="0.22" >DEATHS BY AGE GROUP AND SEX</text>
<rect x="193.8" y="201.9" width="1.8" height="1.8" fill="#0b72b9" />
<text x="196.2" y="203.6" font-size="2.3" fill="#444" font-weight="normal" text-anchor="start" style="font-family:&quot;Liberation Sans&quot;" stroke="#444" stroke-width="0.092" >Male</text>
<rect x="205.8" y="201.9" width="1.8" height="1.8" fill="#e8a22a" />
<text x="208.2" y="203.6" font-size="2.3" fill="#444" font-weight="normal" text-anchor="start" style="font-family:&quot;Liberation Sans&quot;" stroke="#444" stroke-width="0.092" >Female</text>
<text x="112.6" y="235.39999999999998" font-size="1.9" fill="#666" font-weight="normal" text-anchor="end" style="font-family:&quot;Liberation Sans&quot;" stroke="#666" stroke-width="0.076" >0</text>
<text x="112.6" y="232.134" font-size="1.9" fill="#666" font-weight="normal" text-anchor="end" style="font-family:&quot;Liberation Sans&quot;" stroke="#666" stroke-width="0.076" >2</text>
<text x="112.6" y="228.86799999999997" font-size="1.9" fill="#666" font-weight="normal" text-anchor="end" style="font-family:&quot;Liberation Sans&quot;" stroke="#666" stroke-width="0.076" >4</text>
<text x="112.6" y="225.60199999999998" font-size="1.9" fill="#666" font-weight="normal" text-anchor="end" style="font-family:&quot;Liberation Sans&quot;" stroke="#666" stroke-width="0.076" >6</text>
<text x="112.6" y="222.33599999999998" font-size="1.9" fill="#666" font-weight="normal" text-anchor="end" style="font-family:&quot;Liberation Sans&quot;" stroke="#666" stroke-width="0.076" >8</text>
<text x="112.6" y="219.07" font-size="1.9" fill="#666" font-weight="normal" text-anchor="end" style="font-family:&quot;Liberation Sans&quot;" stroke="#666" stroke-width="0.076" >10</text>
<text x="112.6" y="215.80399999999997" font-size="1.9" fill="#666" font-weight="normal" text-anchor="end" style="font-family:&quot;Liberation Sans&quot;" stroke="#666" stroke-width="0.076" >12</text>
<text x="112.6" y="212.53799999999998" font-size="1.9" fill="#666" font-weight="normal" text-anchor="end" style="font-family:&quot;Liberation Sans&quot;" stroke="#666" stroke-width="0.076" >14</text>
<text x="112.6" y="209.272" font-size="1.9" fill="#666" font-weight="normal" text-anchor="end" style="font-family:&quot;Liberation Sans&quot;" stroke="#666" stroke-width="0.076" >16</text>
<text x="112.6" y="206.00599999999997" font-size="1.9" fill="#666" font-weight="normal" text-anchor="end" style="font-family:&quot;Liberation Sans&quot;" stroke="#666" stroke-width="0.076" >18</text>
<line x1="114.8" y1="204" x2="114.8" y2="234.7" stroke="#bbb" stroke-width="0.3" />
<line x1="114.8" y1="234.7" x2="227" y2="234.7" stroke="#bbb" stroke-width="0.3" />
<text x="120.95" y="238.6" font-size="1.9" fill="#666" font-weight="normal" text-anchor="middle" style="font-family:&quot;Liberation Sans&quot;" stroke="#666" stroke-width="0.076" >0-9</text>
<text x="131.5" y="238.6" font-size="1.9" fill="#666" font-weight="normal" text-anchor="middle" style="font-family:&quot;Liberation Sans&quot;" stroke="#666" stroke-width="0.076" >10-19</text>
<text x="142.05" y="238.6" font-size="1.9" fill="#666" font-weight="normal" text-anchor="middle" style="font-family:&quot;Liberation Sans&quot;" stroke="#666" stroke-width="0.076" >20-29</text>
<text x="152.6" y="238.6" font-size="1.9" fill="#666" font-weight="normal" text-anchor="middle" style="font-family:&quot;Liberation Sans&quot;" stroke="#666" stroke-width="0.076" >30-39</text>
<rect x="159.3" y="233.07" width="3.85" height="1.63" fill="#0e7cc3" />
<text x="163.15" y="238.6" font-size="1.9" fill="#666" font-weight="normal" text-anchor="middle" style="font-family:&quot;Liberation Sans&quot;" stroke="#666" stroke-width="0.076" >40-49</text>
<rect x="169.85" y="233.07" width="3.85" height="1.63" fill="#0e7cc3" />
<rect x="173.7" y="233.07" width="3.85" height="1.63" fill="#e8a22a" />
<text x="173.7" y="238.6" font-size="1.9" fill="#666" font-weight="normal" text-anchor="middle" style="font-family:&quot;Liberation Sans&quot;" stroke="#666" stroke-width="0.076" >50-59</text>
<rect x="180.4" y="224.9" width="3.85" height="9.8" fill="#0e7cc3" />
<rect x="184.25" y="228.82" width="3.85" height="5.88" fill="#e8a22a" />
<text x="184.25" y="238.6" font-size="1.9" fill="#666" font-weight="normal" text-anchor="middle" style="font-family:&quot;Liberation Sans&quot;" stroke="#666" stroke-width="0.076" >60-69</text>
<rect x="190.95" y="211.84" width="3.85" height="22.86" fill="#0e7cc3" />
<rect x="194.8" y="217.55" width="3.85" height="17.15" fill="#e8a22a" />
<text x="194.8" y="238.6" font-size="1.9" fill="#666" font-weight="normal" text-anchor="middle" style="font-family:&quot;Liberation Sans&quot;" stroke="#666" stroke-width="0.076" >70-79</text>
<rect x="201.5" y="209.23" width="3.85" height="25.47" fill="#0e7cc3" />
<rect x="205.35" y="223.43" width="3.85" height="11.27" fill="#e8a22a" />
<text x="205.35" y="238.6" font-size="1.9" fill="#666" font-weight="normal" text-anchor="middle" style="font-family:&quot;Liberation Sans&quot;" stroke="#666" stroke-width="0.076" >80-89</text>
<rect x="212.05" y="223.43" width="3.85" height="11.27" fill="#0e7cc3" />
<rect x="215.9" y="223.43" width="3.85" height="11.27" fill="#e8a22a" />
<text x="215.9" y="238.6" font-size="1.9" fill="#666" font-weight="normal" text-anchor="middle" style="font-family:&quot;Liberation Sans&quot;" stroke="#666" stroke-width="0.076" >90+</text>
<rect x="232.7" y="27.7" width="120.10000000000002" height="74.6" fill="#fff" />
<text transform="translate(238.7 35.2) scale(1.1076 1)" font-size="2.9" fill="#1a1a2a" font-weight="bold" text-anchor="start" style="font-family:&quot;Liberation Sans&quot;" stroke="#1a1a2a" stroke-width="0.22" >CASES (DEATHS) BY STATE AND TERRITORIES</text>
<g stroke="#444" stroke-width="0.4" fill="#f2e53f">
<path d="M262.5,58.6 L267,56.5 L271,54.9 L275,53 L277.6,51.1 L278.5,48.3 L282.3,46.4 L284.6,45.2 L286.8,41.7 L290,41.3 L296.3,42.6 L296.6,45.5 L297.6,49.2 L298.7,51.1 L302.9,52 L303.8,48 L304.4,43.5 L306.3,40.7 L307.2,43 L308.5,46.4 L312.3,52 L317,56.8 L320.8,62.4 L322.7,69 L322.3,73 L320.6,77 L318.75,80 L317.5,83.1 L315.6,85.6 L313.1,86.9 L310,87.5 L306.9,86.9 L304.4,85.6 L303.1,84.4 L301.25,82.5 L300,80.6 L298.75,81.25 L296.9,78.75 L295.6,80.6 L293.1,78.1 L291.9,75.6 L285,75 L280,75.6 L278.5,76.6 L271,78.5 L264.4,79.8 L261.5,73.7 L262.5,68 L260.6,65.2 L261.2,59.6Z"/>
<path d="M308.1,92.5 L313.75,92.5 L312.5,96.9 L311.25,98.1 L309.4,96.9Z"/>
</g>
<g stroke="#444" stroke-width="0.4" fill="none">
<path d="M284.6,45.2 V74.7"/>
<path d="M284.6,66.2 H302.9"/>
<path d="M298.7,51.1 V66.2"/>
<path d="M303.1,66.2 V84.4"/>
<path d="M302.9,70 H322.7"/>
<path d="M303.1,80.6 Q306 81.2 310,82.5 Q314 83.5 317.5,83.1"/>
<path d="M317.8,84.2 L323.4,86.2" stroke-width="0.25"/>
<path d="M307.9,88.9 H306.9 V91.9 H307.9" stroke-width="0.3"/>
</g>
<text transform="translate(265.7 66.6) scale(0.9371 1)" font-size="5.3" fill="#222" font-weight="normal" text-anchor="start" style="font-family:&quot;Liberation Sans&quot;" stroke="#222" stroke-width="0.2" >550 (8)</text>
<text transform="translate(285.0 58.2) scale(0.9556 1)" font-size="5.3" fill="#222" font-weight="normal" text-anchor="start" style="font-family:&quot;Liberation Sans&quot;" stroke="#222" stroke-width="0.2" >27 (0)</text>
<text transform="translate(300.6 65.1) scale(0.9544 1)" font-size="5.3" fill="#222" font-weight="normal" text-anchor="start" style="font-family:&quot;Liberation Sans&quot;" stroke="#222" stroke-width="0.2" >1,033 (6)</text>
<text transform="translate(285.5 73.3) scale(0.9789 1)" font-size="5.3" fill="#222" font-weight="normal" text-anchor="start" style="font-family:&quot;Liberation Sans&quot;" stroke="#222" stroke-width="0.2" >438 (4)</text>
<text transform="translate(307.9 76.4) scale(0.9293 1)" font-size="5.3" fill="#222" font-weight="normal" text-anchor="start" style="font-family:&quot;Liberation Sans&quot;" stroke="#222" stroke-width="0.2" >3,009 (35)</text>
<text transform="translate(324.0 87.6) scale(0.8953 1)" font-size="5.3" fill="#222" font-weight="normal" text-anchor="start" style="font-family:&quot;Liberation Sans&quot;" stroke="#222" stroke-width="0.2" >106 (3)</text>
<text transform="translate(285.6 91.3) scale(0.8629 1)" font-size="5.3" fill="#222" font-weight="normal" text-anchor="start" style="font-family:&quot;Liberation Sans&quot;" stroke="#222" stroke-width="0.2" >1,351 (17)</text>
<text transform="translate(315.1 97.9) scale(0.9377 1)" font-size="5.3" fill="#222" font-weight="normal" text-anchor="start" style="font-family:&quot;Liberation Sans&quot;" stroke="#222" stroke-width="0.2" >217 (11)</text>
<rect x="232.7" y="104.8" width="120.10000000000002" height="77.1" fill="#fff" />
<text transform="translate(239.2 111.5) scale(0.9959 1)" font-size="3.2" fill="#1a1a2a" font-weight="bold" text-anchor="start" style="font-family:&quot;Liberation Sans&quot;" stroke="#1a1a2a" stroke-width="0.22" >CASES BY SOURCE OF INFECTION</text>
<text transform="translate(242.2 118.6) scale(1.2151 1)" font-size="2.0" fill="#444" font-weight="normal" text-anchor="start" style="font-family:&quot;Liberation Sans&quot;" stroke="#444" stroke-width="0.08" >Australia (% of all confirmed cases)</text>
<rect x="242.5" y="120.7" width="63.3" height="5.5" fill="#0a70b8" />
<rect x="305.8" y="120.7" width="26.5" height="5.5" fill="#e9a21e" />
<rect x="332.3" y="120.7" width="9.5" height="5.5" fill="#1f9f78" />
<rect x="341.8" y="120.7" width="1.0" height="5.5" fill="#6fc3ea" />
<text x="273" y="124.1" font-size="2.0" fill="#fff" font-weight="normal" text-anchor="middle" style="font-family:&quot;Liberation Sans&quot;" stroke="#fff" stroke-width="0.08" >63.7%</text>
<text x="319" y="124.1" font-size="2.0" fill="#fff" font-weight="normal" text-anchor="middle" style="font-family:&quot;Liberation Sans&quot;" stroke="#fff" stroke-width="0.08" >26.4%</text>
<text x="337" y="124.1" font-size="2.0" fill="#fff" font-weight="normal" text-anchor="middle" style="font-family:&quot;Liberation Sans&quot;" stroke="#fff" stroke-width="0.08" >9.1%</text>
<text x="346.5" y="124.1" font-size="1.8" fill="#444" font-weight="normal" text-anchor="middle" style="font-family:&quot;Liberation Sans&quot;" stroke="#444" stroke-width="0.072" >0.8%</text>
<text x="242.5" y="130.2" font-size="1.7" fill="#666" font-weight="normal" text-anchor="middle" style="font-family:&quot;Liberation Sans&quot;" stroke="#666" stroke-width="0.068" >0</text>
<line x1="242.5" y1="131" x2="242.5" y2="168" stroke="#eee" stroke-width="0.25" />
<text x="250.93" y="130.2" font-size="1.7" fill="#666" font-weight="normal" text-anchor="middle" style="font-family:&quot;Liberation Sans&quot;" stroke="#666" stroke-width="0.068" >250</text>
<line x1="250.93" y1="131" x2="250.93" y2="168" stroke="#eee" stroke-width="0.25" />
<text x="259.37" y="130.2" font-size="1.7" fill="#666" font-weight="normal" text-anchor="middle" style="font-family:&quot;Liberation Sans&quot;" stroke="#666" stroke-width="0.068" >500</text>
<line x1="259.37" y1="131" x2="259.37" y2="168" stroke="#eee" stroke-width="0.25" />
<text x="267.8" y="130.2" font-size="1.7" fill="#666" font-weight="normal" text-anchor="middle" style="font-family:&quot;Liberation Sans&quot;" stroke="#666" stroke-width="0.068" >750</text>
<line x1="267.8" y1="131" x2="267.8" y2="168" stroke="#eee" stroke-width="0.25" />
<text x="276.23" y="130.2" font-size="1.7" fill="#666" font-weight="normal" text-anchor="middle" style="font-family:&quot;Liberation Sans&quot;" stroke="#666" stroke-width="0.068" >1,000</text>
<line x1="276.23" y1="131" x2="276.23" y2="168" stroke="#eee" stroke-width="0.25" />
<text x="284.67" y="130.2" font-size="1.7" fill="#666" font-weight="normal" text-anchor="middle" style="font-family:&quot;Liberation Sans&quot;" stroke="#666" stroke-width="0.068" >1,250</text>
<line x1="284.67" y1="131" x2="284.67" y2="168" stroke="#eee" stroke-width="0.25" />
<text x="293.1" y="130.2" font-size="1.7" fill="#666" font-weight="normal" text-anchor="middle" style="font-family:&quot;Liberation Sans&quot;" stroke="#666" stroke-width="0.068" >1,500</text>
<line x1="293.1" y1="131" x2="293.1" y2="168" stroke="#eee" stroke-width="0.25" />
<text x="301.53" y="130.2" font-size="1.7" fill="#666" font-weight="normal" text-anchor="middle" style="font-family:&quot;Liberation Sans&quot;" stroke="#666" stroke-width="0.068" >1,750</text>
<line x1="301.53" y1="131" x2="301.53" y2="168" stroke="#eee" stroke-width="0.25" />
<text x="309.96" y="130.2" font-size="1.7" fill="#666" font-weight="normal" text-anchor="middle" style="font-family:&quot;Liberation Sans&quot;" stroke="#666" stroke-width="0.068" >2,000</text>
<line x1="309.96" y1="131" x2="309.96" y2="168" stroke="#eee" stroke-width="0.25" />
<text x="318.4" y="130.2" font-size="1.7" fill="#666" font-weight="normal" text-anchor="middle" style="font-family:&quot;Liberation Sans&quot;" stroke="#666" stroke-width="0.068" >2,250</text>
<line x1="318.4" y1="131" x2="318.4" y2="168" stroke="#eee" stroke-width="0.25" />
<text x="326.83" y="130.2" font-size="1.7" fill="#666" font-weight="normal" text-anchor="middle" style="font-family:&quot;Liberation Sans&quot;" stroke="#666" stroke-width="0.068" >2,500</text>
<line x1="326.83" y1="131" x2="326.83" y2="168" stroke="#eee" stroke-width="0.25" />
<text x="335.26" y="130.2" font-size="1.7" fill="#666" font-weight="normal" text-anchor="middle" style="font-family:&quot;Liberation Sans&quot;" stroke="#666" stroke-width="0.068" >2,750</text>
<line x1="335.26" y1="131" x2="335.26" y2="168" stroke="#eee" stroke-width="0.25" />
<text x="343.7" y="130.2" font-size="1.7" fill="#666" font-weight="normal" text-anchor="middle" style="font-family:&quot;Liberation Sans&quot;" stroke="#666" stroke-width="0.068" >3,000</text>
<line x1="343.7" y1="131" x2="343.7" y2="168" stroke="#eee" stroke-width="0.25" />
<line x1="242.4" y1="131" x2="242.4" y2="168" stroke="#aaa" stroke-width="0.35" />
<text x="239.2" y="135.29999999999998" font-size="1.9" fill="#444" font-weight="normal" text-anchor="middle" style="font-family:&quot;Liberation Sans&quot;" stroke="#444" stroke-width="0.076" >NSW</text>
<rect x="242.5" y="132.7" width="60.04" height="3.6" fill="#0a70b8" />
<rect x="302.54" y="132.7" width="27.83" height="3.6" fill="#e9a21e" />
<rect x="330.37" y="132.7" width="13.63" height="3.6" fill="#1f9f78" />
<text x="239.2" y="139.95" font-size="1.9" fill="#444" font-weight="normal" text-anchor="middle" style="font-family:&quot;Liberation Sans&quot;" stroke="#444" stroke-width="0.076" >VIC</text>
<rect x="242.5" y="137.35" width="27.66" height="3.6" fill="#0a70b8" />
<rect x="270.16" y="137.35" width="13.16" height="3.6" fill="#e9a21e" />
<rect x="283.32" y="137.35" width="4.76" height="3.6" fill="#1f9f78" />
<text x="239.2" y="144.6" font-size="1.9" fill="#444" font-weight="normal" text-anchor="middle" style="font-family:&quot;Liberation Sans&quot;" stroke="#444" stroke-width="0.076" >QLD</text>
<rect x="242.5" y="142.0" width="26.99" height="3.6" fill="#0a70b8" />
<rect x="269.49" y="142.0" width="5.9" height="3.6" fill="#e9a21e" />
<rect x="275.39" y="142.0" width="1.96" height="3.6" fill="#1f9f78" />
<text x="239.2" y="149.24999999999997" font-size="1.9" fill="#444" font-weight="normal" text-anchor="middle" style="font-family:&quot;Liberation Sans&quot;" stroke="#444" stroke-width="0.076" >WA</text>
<rect x="242.5" y="146.64999999999998" width="15.85" height="3.6" fill="#0a70b8" />
<rect x="258.35" y="146.64999999999998" width="1.69" height="3.6" fill="#e9a21e" />
<rect x="260.04" y="146.64999999999998" width="0.51" height="3.6" fill="#1f9f78" />
<text x="239.2" y="153.89999999999998" font-size="1.9" fill="#444" font-weight="normal" text-anchor="middle" style="font-family:&quot;Liberation Sans&quot;" stroke="#444" stroke-width="0.076" >SA</text>
<rect x="242.5" y="151.29999999999998" width="9.71" height="3.6" fill="#0a70b8" />
<rect x="252.21" y="151.29999999999998" width="4.28" height="3.6" fill="#e9a21e" />
<rect x="256.5" y="151.29999999999998" width="0.81" height="3.6" fill="#1f9f78" />
<text x="239.2" y="158.54999999999998" font-size="1.9" fill="#444" font-weight="normal" text-anchor="middle" style="font-family:&quot;Liberation Sans&quot;" stroke="#444" stroke-width="0.076" >TAS</text>
<rect x="242.5" y="155.95" width="2.19" height="3.6" fill="#0a70b8" />
<rect x="244.69" y="155.95" width="4.89" height="3.6" fill="#e9a21e" />
<rect x="249.58" y="155.95" width="0.24" height="3.6" fill="#1f9f78" />
<text x="239.2" y="163.2" font-size="1.9" fill="#444" font-weight="normal" text-anchor="middle" style="font-family:&quot;Liberation Sans&quot;" stroke="#444" stroke-width="0.076" >ACT</text>
<rect x="242.5" y="160.6" width="2.19" height="3.6" fill="#0a70b8" />
<rect x="244.69" y="160.6" width="1.11" height="3.6" fill="#e9a21e" />
<rect x="245.81" y="160.6" width="0.13" height="3.6" fill="#1f9f78" />
<text x="239.2" y="167.85" font-size="1.9" fill="#444" font-weight="normal" text-anchor="middle" style="font-family:&quot;Liberation Sans&quot;" stroke="#444" stroke-width="0.076" >NT</text>
<rect x="242.5" y="165.25" width="0.74" height="3.6" fill="#0a70b8" />
<rect x="243.24" y="165.25" width="0.13" height="3.6" fill="#e9a21e" />
<rect x="243.38" y="165.25" width="0.03" height="3.6" fill="#1f9f78" />
<circle cx="236.2" cy="173.7" r="0.65" fill="#0a70b8"/>
<text transform="translate(238.2 174.5) scale(1.0384 1)" font-size="2.3" fill="#555" font-weight="normal" text-anchor="start" style="font-family:&quot;Liberation Sans&quot;" stroke="#555" stroke-width="0.05" >Overseas acquired</text>
<circle cx="236.2" cy="177.3" r="0.65" fill="#1f9f78"/>
<text transform="translate(238.2 178.10000000000002) scale(1.1091 1)" font-size="2.3" fill="#555" font-weight="normal" text-anchor="start" style="font-family:&quot;Liberation Sans&quot;" stroke="#555" stroke-width="0.05" >Locally acquired - contact not identified</text>
<circle cx="295.0" cy="173.6" r="0.65" fill="#e9a21e"/>
<text transform="translate(297.0 174.4) scale(1.0282 1)" font-size="2.3" fill="#555" font-weight="normal" text-anchor="start" style="font-family:&quot;Liberation Sans&quot;" stroke="#555" stroke-width="0.05" >Locally acquired - contact of a confirmed case</text>
<circle cx="295.0" cy="177.5" r="0.65" fill="#6fc3ea"/>
<text transform="translate(297.0 178.3) scale(1.0843 1)" font-size="2.3" fill="#555" font-weight="normal" text-anchor="start" style="font-family:&quot;Liberation Sans&quot;" stroke="#555" stroke-width="0.05" >Under investigation</text>
<rect x="232.7" y="184.1" width="120.10000000000002" height="58.4" fill="#fff" />
<text transform="translate(238.7 190.4) scale(0.9652 1)" font-size="3.1" fill="#1a1a2a" font-weight="bold" text-anchor="start" style="font-family:&quot;Liberation Sans&quot;" stroke="#1a1a2a" stroke-width="0.22" >PUBLIC HEALTH RESPONSE MEASURE</text>
<text transform="translate(238.7 194.6) scale(1.1540 1)" font-size="2.5" fill="#333" font-weight="normal" text-anchor="start" style="font-family:&quot;Liberation Sans&quot;" stroke="#333" stroke-width="0.08" >Proportion of total cases under investigation</text>
<line x1="241.8" y1="201.6" x2="245.20000000000002" y2="201.6" stroke="#444444" stroke-width="0.35" />
<circle cx="243.5" cy="201.6" r="0.5" fill="#444444"/>
<text x="246.3" y="202.45" font-size="2.4" fill="#555" font-weight="normal" text-anchor="start" style="font-family:&quot;Liberation Sans&quot;" stroke="#555" stroke-width="0.05" >ACT</text>
<line x1="255.25" y1="201.6" x2="258.65" y2="201.6" stroke="#f0a030" stroke-width="0.35" />
<circle cx="256.95" cy="201.6" r="0.5" fill="#f0a030"/>
<text x="259.75" y="202.45" font-size="2.4" fill="#555" font-weight="normal" text-anchor="start" style="font-family:&quot;Liberation Sans&quot;" stroke="#555" stroke-width="0.05" >NSW</text>
<line x1="268.7" y1="201.6" x2="272.09999999999997" y2="201.6" stroke="#5ab0e0" stroke-width="0.35" />
<circle cx="270.4" cy="201.6" r="0.5" fill="#5ab0e0"/>
<text x="273.2" y="202.45" font-size="2.4" fill="#555" font-weight="normal" text-anchor="start" style="font-family:&quot;Liberation Sans&quot;" stroke="#555" stroke-width="0.05" >NT</text>
<line x1="282.15" y1="201.6" x2="285.54999999999995" y2="201.6" stroke="#2aa870" stroke-width="0.35" />
<circle cx="283.84999999999997" cy="201.6" r="0.5" fill="#2aa870"/>
<text x="286.65" y="202.45" font-size="2.4" fill="#555" font-weight="normal" text-anchor="start" style="font-family:&quot;Liberation Sans&quot;" stroke="#555" stroke-width="0.05" >QLD</text>
<line x1="295.6" y1="201.6" x2="299.0" y2="201.6" stroke="#f0e030" stroke-width="0.35" />
<circle cx="297.3" cy="201.6" r="0.5" fill="#f0e030"/>
<text x="300.1" y="202.45" font-size="2.4" fill="#555" font-weight="normal" text-anchor="start" style="font-family:&quot;Liberation Sans&quot;" stroke="#555" stroke-width="0.05" >SA</text>
<line x1="309.05" y1="201.6" x2="312.45" y2="201.6" stroke="#6ab8e8" stroke-width="0.35" />
<circle cx="310.75" cy="201.6" r="0.5" fill="#6ab8e8"/>
<text x="313.55" y="202.45" font-size="2.4" fill="#555" font-weight="normal" text-anchor="start" style="font-family:&quot;Liberation Sans&quot;" stroke="#555" stroke-width="0.05" >TAS</text>
<line x1="322.5" y1="201.6" x2="325.9" y2="201.6" stroke="#e07020" stroke-width="0.35" />
<circle cx="324.2" cy="201.6" r="0.5" fill="#e07020"/>
<text x="327.0" y="202.45" font-size="2.4" fill="#555" font-weight="normal" text-anchor="start" style="font-family:&quot;Liberation Sans&quot;" stroke="#555" stroke-width="0.05" >VIC</text>
<line x1="335.95" y1="201.6" x2="339.34999999999997" y2="201.6" stroke="#f4b8c0" stroke-width="0.35" />
<circle cx="337.65" cy="201.6" r="0.5" fill="#f4b8c0"/>
<text x="340.45" y="202.45" font-size="2.4" fill="#555" font-weight="normal" text-anchor="start" style="font-family:&quot;Liberation Sans&quot;" stroke="#555" stroke-width="0.05" >WA</text>
<text x="238.3" y="236.1" font-size="2.0" fill="#666" font-weight="normal" text-anchor="end" style="font-family:&quot;Liberation Sans&quot;" stroke="#666" stroke-width="0.08" >0%</text>
<text x="238.3" y="230.0" font-size="2.0" fill="#666" font-weight="normal" text-anchor="end" style="font-family:&quot;Liberation Sans&quot;" stroke="#666" stroke-width="0.08" >1%</text>
<line x1="240" y1="229.3" x2="349" y2="229.3" stroke="#f0f0f0" stroke-width="0.25" />
<text x="238.3" y="223.9" font-size="2.0" fill="#666" font-weight="normal" text-anchor="end" style="font-family:&quot;Liberation Sans&quot;" stroke="#666" stroke-width="0.08" >2%</text>
<line x1="240" y1="223.20000000000002" x2="349" y2="223.20000000000002" stroke="#f0f0f0" stroke-width="0.25" />
<text x="238.3" y="217.8" font-size="2.0" fill="#666" font-weight="normal" text-anchor="end" style="font-family:&quot;Liberation Sans&quot;" stroke="#666" stroke-width="0.08" >3%</text>
<line x1="240" y1="217.10000000000002" x2="349" y2="217.10000000000002" stroke="#f0f0f0" stroke-width="0.25" />
<text x="238.3" y="211.7" font-size="2.0" fill="#666" font-weight="normal" text-anchor="end" style="font-family:&quot;Liberation Sans&quot;" stroke="#666" stroke-width="0.08" >4%</text>
<line x1="240" y1="211.0" x2="349" y2="211.0" stroke="#f0f0f0" stroke-width="0.25" />
<text x="238.3" y="205.6" font-size="2.0" fill="#666" font-weight="normal" text-anchor="end" style="font-family:&quot;Liberation Sans&quot;" stroke="#666" stroke-width="0.08" >5%</text>
<line x1="240" y1="204.9" x2="349" y2="204.9" stroke="#f0f0f0" stroke-width="0.25" />
<line x1="240" y1="235.4" x2="349" y2="235.4" stroke="#ccc" stroke-width="0.3" />
<text x="246.8" y="238.2" font-size="1.9" fill="#666" font-weight="normal" text-anchor="middle" style="font-family:&quot;Liberation Sans&quot;" stroke="#666" stroke-width="0.076" >21 Apr</text>
<text x="260.6" y="238.2" font-size="1.9" fill="#666" font-weight="normal" text-anchor="middle" style="font-family:&quot;Liberation Sans&quot;" stroke="#666" stroke-width="0.076" >22 Apr</text>
<text x="274.4" y="238.2" font-size="1.9" fill="#666" font-weight="normal" text-anchor="middle" style="font-family:&quot;Liberation Sans&quot;" stroke="#666" stroke-width="0.076" >23 Apr</text>
<text x="288.2" y="238.2" font-size="1.9" fill="#666" font-weight="normal" text-anchor="middle" style="font-family:&quot;Liberation Sans&quot;" stroke="#666" stroke-width="0.076" >24 Apr</text>
<text x="302.0" y="238.2" font-size="1.9" fill="#666" font-weight="normal" text-anchor="middle" style="font-family:&quot;Liberation Sans&quot;" stroke="#666" stroke-width="0.076" >25 Apr</text>
<text x="315.8" y="238.2" font-size="1.9" fill="#666" font-weight="normal" text-anchor="middle" style="font-family:&quot;Liberation Sans&quot;" stroke="#666" stroke-width="0.076" >26 Apr</text>
<text x="329.6" y="238.2" font-size="1.9" fill="#666" font-weight="normal" text-anchor="middle" style="font-family:&quot;Liberation Sans&quot;" stroke="#666" stroke-width="0.076" >27 Apr</text>
<text x="343.4" y="238.2" font-size="1.9" fill="#666" font-weight="normal" text-anchor="middle" style="font-family:&quot;Liberation Sans&quot;" stroke="#666" stroke-width="0.076" >28 Apr</text>
<polyline points="246.80,235.40 260.60,235.40 274.40,235.40 288.20,235.40 302.00,235.40 315.80,235.40 329.60,235.40 343.40,235.40" fill="none" stroke="#6ab8e8" stroke-width="0.35"/>
<circle cx="246.80" cy="235.40" r="0.5" fill="#6ab8e8"/>
<circle cx="260.60" cy="235.40" r="0.5" fill="#6ab8e8"/>
<circle cx="274.40" cy="235.40" r="0.5" fill="#6ab8e8"/>
<circle cx="288.20" cy="235.40" r="0.5" fill="#6ab8e8"/>
<circle cx="302.00" cy="235.40" r="0.5" fill="#6ab8e8"/>
<circle cx="315.80" cy="235.40" r="0.5" fill="#6ab8e8"/>
<circle cx="329.60" cy="235.40" r="0.5" fill="#6ab8e8"/>
<circle cx="343.40" cy="235.40" r="0.5" fill="#6ab8e8"/>
<polyline points="246.80,235.40 260.60,235.40 274.40,235.40 288.20,231.74 302.00,231.13 315.80,231.13 329.60,231.13 343.40,232.35" fill="none" stroke="#f4b8c0" stroke-width="0.35"/>
<circle cx="246.80" cy="235.40" r="0.5" fill="#f4b8c0"/>
<circle cx="260.60" cy="235.40" r="0.5" fill="#f4b8c0"/>
<circle cx="274.40" cy="235.40" r="0.5" fill="#f4b8c0"/>
<circle cx="288.20" cy="231.74" r="0.5" fill="#f4b8c0"/>
<circle cx="302.00" cy="231.13" r="0.5" fill="#f4b8c0"/>
<circle cx="315.80" cy="231.13" r="0.5" fill="#f4b8c0"/>
<circle cx="329.60" cy="231.13" r="0.5" fill="#f4b8c0"/>
<circle cx="343.40" cy="232.35" r="0.5" fill="#f4b8c0"/>
<polyline points="246.80,232.96 260.60,233.27 274.40,233.27 288.20,233.57 302.00,233.27 315.80,233.27 329.60,231.74 343.40,233.57" fill="none" stroke="#e07020" stroke-width="0.35"/>
<circle cx="246.80" cy="232.96" r="0.5" fill="#e07020"/>
<circle cx="260.60" cy="233.27" r="0.5" fill="#e07020"/>
<circle cx="274.40" cy="233.27" r="0.5" fill="#e07020"/>
<circle cx="288.20" cy="233.57" r="0.5" fill="#e07020"/>
<circle cx="302.00" cy="233.27" r="0.5" fill="#e07020"/>
<circle cx="315.80" cy="233.27" r="0.5" fill="#e07020"/>
<circle cx="329.60" cy="231.74" r="0.5" fill="#e07020"/>
<circle cx="343.40" cy="233.57" r="0.5" fill="#e07020"/>
<polyline points="246.80,232.66 260.60,233.57 274.40,232.96 288.20,232.96 302.00,232.66 315.80,232.66 329.60,232.05 343.40,232.96" fill="none" stroke="#f0a030" stroke-width="0.35"/>
<circle cx="246.80" cy="232.66" r="0.5" fill="#f0a030"/>
<circle cx="260.60" cy="233.57" r="0.5" fill="#f0a030"/>
<circle cx="274.40" cy="232.96" r="0.5" fill="#f0a030"/>
<circle cx="288.20" cy="232.96" r="0.5" fill="#f0a030"/>
<circle cx="302.00" cy="232.66" r="0.5" fill="#f0a030"/>
<circle cx="315.80" cy="232.66" r="0.5" fill="#f0a030"/>
<circle cx="329.60" cy="232.05" r="0.5" fill="#f0a030"/>
<circle cx="343.40" cy="232.96" r="0.5" fill="#f0a030"/>
<polyline points="246.80,228.69 260.60,229.61 274.40,229.91 288.20,232.96 302.00,232.96 315.80,232.96 329.60,232.35 343.40,233.57" fill="none" stroke="#2aa870" stroke-width="0.35"/>
<circle cx="246.80" cy="228.69" r="0.5" fill="#2aa870"/>
<circle cx="260.60" cy="229.61" r="0.5" fill="#2aa870"/>
<circle cx="274.40" cy="229.91" r="0.5" fill="#2aa870"/>
<circle cx="288.20" cy="232.96" r="0.5" fill="#2aa870"/>
<circle cx="302.00" cy="232.96" r="0.5" fill="#2aa870"/>
<circle cx="315.80" cy="232.96" r="0.5" fill="#2aa870"/>
<circle cx="329.60" cy="232.35" r="0.5" fill="#2aa870"/>
<circle cx="343.40" cy="233.57" r="0.5" fill="#2aa870"/>
<polyline points="246.80,228.08 260.60,228.26 274.40,229.30 288.20,231.44 302.00,230.83 315.80,230.83 329.60,230.52 343.40,231.13" fill="none" stroke="#f0e030" stroke-width="0.35"/>
<circle cx="246.80" cy="228.08" r="0.5" fill="#f0e030"/>
<circle cx="260.60" cy="228.26" r="0.5" fill="#f0e030"/>
<circle cx="274.40" cy="229.30" r="0.5" fill="#f0e030"/>
<circle cx="288.20" cy="231.44" r="0.5" fill="#f0e030"/>
<circle cx="302.00" cy="230.83" r="0.5" fill="#f0e030"/>
<circle cx="315.80" cy="230.83" r="0.5" fill="#f0e030"/>
<circle cx="329.60" cy="230.52" r="0.5" fill="#f0e030"/>
<circle cx="343.40" cy="231.13" r="0.5" fill="#f0e030"/>
<polyline points="246.80,235.40 260.60,235.40 274.40,235.40 288.20,233.57 302.00,229.30 315.80,229.30 329.60,229.30 343.40,233.57" fill="none" stroke="#444444" stroke-width="0.35"/>
<circle cx="246.80" cy="235.40" r="0.5" fill="#444444"/>
<circle cx="260.60" cy="235.40" r="0.5" fill="#444444"/>
<circle cx="274.40" cy="235.40" r="0.5" fill="#444444"/>
<circle cx="288.20" cy="233.57" r="0.5" fill="#444444"/>
<circle cx="302.00" cy="229.30" r="0.5" fill="#444444"/>
<circle cx="315.80" cy="229.30" r="0.5" fill="#444444"/>
<circle cx="329.60" cy="229.30" r="0.5" fill="#444444"/>
<circle cx="343.40" cy="233.57" r="0.5" fill="#444444"/>
<polyline points="246.80,214.05 260.60,211.00 274.40,208.87 288.20,208.87 302.00,208.87 315.80,220.76 329.60,220.76 343.40,220.76" fill="none" stroke="#5ab0e0" stroke-width="0.35"/>
<circle cx="246.80" cy="214.05" r="0.5" fill="#5ab0e0"/>
<circle cx="260.60" cy="211.00" r="0.5" fill="#5ab0e0"/>
<circle cx="274.40" cy="208.87" r="0.5" fill="#5ab0e0"/>
<circle cx="288.20" cy="208.87" r="0.5" fill="#5ab0e0"/>
<circle cx="302.00" cy="208.87" r="0.5" fill="#5ab0e0"/>
<circle cx="315.80" cy="220.76" r="0.5" fill="#5ab0e0"/>
<circle cx="329.60" cy="220.76" r="0.5" fill="#5ab0e0"/>
<circle cx="343.40" cy="220.76" r="0.5" fill="#5ab0e0"/>
<text transform="translate(182.5 250.6) scale(0.9476 1)" font-size="3.6" fill="#fff" font-weight="normal" text-anchor="start" style="font-family:&quot;Liberation Sans&quot;" stroke="#fff" stroke-width="0.05" >This infographic is updated every afternoon based on the data we receive by 3.00pm from states and territories.</text>
</svg></body></html>
